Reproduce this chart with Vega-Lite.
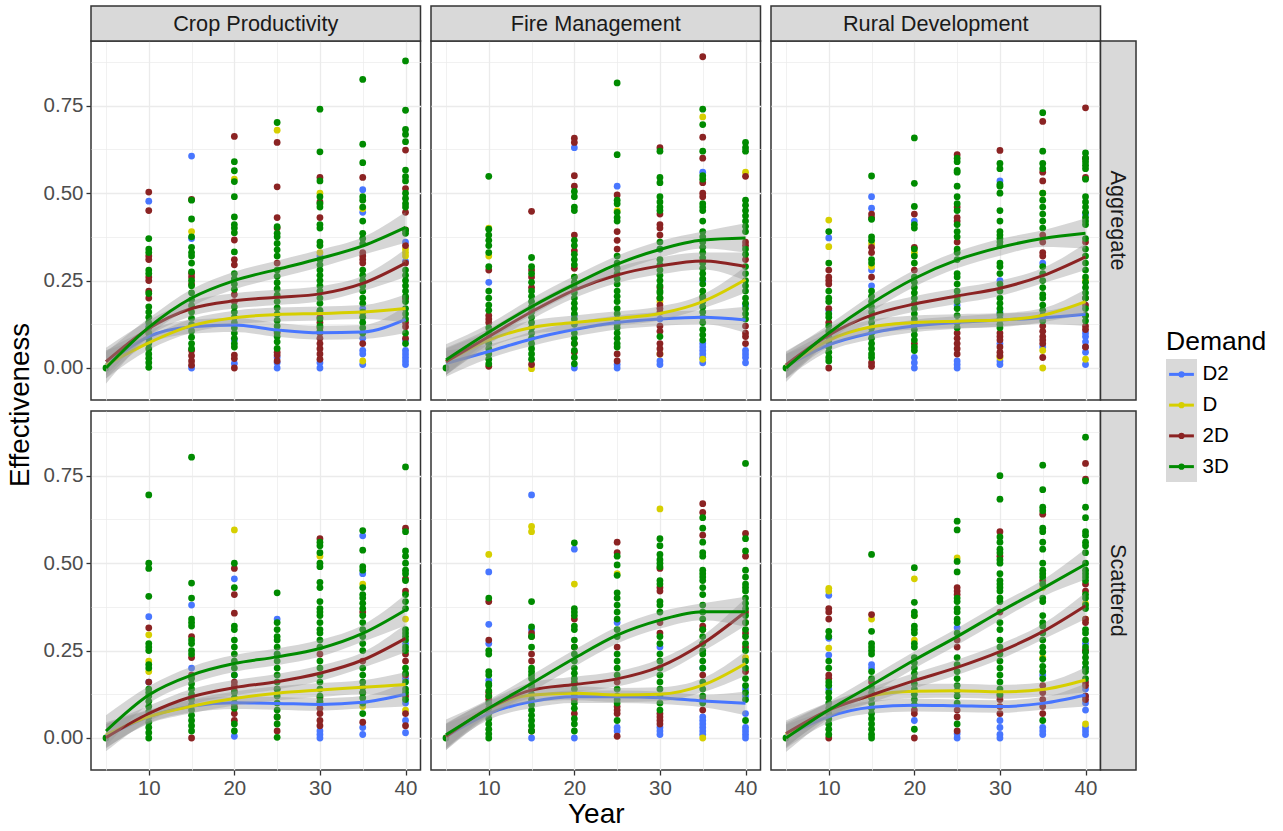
{"$schema":"https://vega.github.io/schema/vega-lite/v6.json","padding":{"left":0,"top":4,"right":0,"bottom":0},"background":"white",
"datasets":{
"p11":[{"s":"D2","x":10,"y":0.477},{"s":"D2","x":10,"y":0.12},{"s":"D2","x":15,"y":0.606},{"s":"D2","x":15,"y":0.37},{"s":"D2","x":15,"y":0},{"s":"D2","x":20,"y":0.013},{"s":"D2","x":20,"y":0.08},{"s":"D2","x":25,"y":0},{"s":"D2","x":25,"y":0.015},{"s":"D2","x":25,"y":0.03},{"s":"D2","x":30,"y":0},{"s":"D2","x":30,"y":0.015},{"s":"D2","x":30,"y":0.32},{"s":"D2","x":35,"y":0.51},{"s":"D2","x":35,"y":0.445},{"s":"D2","x":35,"y":0.05},{"s":"D2","x":35,"y":0.04},{"s":"D2","x":35,"y":0.01},{"s":"D2","x":35,"y":0.085},{"s":"D2","x":35,"y":0.17},{"s":"D2","x":40,"y":0.36},{"s":"D2","x":40,"y":0.305},{"s":"D2","x":40,"y":0.2},{"s":"D2","x":40,"y":0.08},{"s":"D2","x":40,"y":0.05},{"s":"D2","x":40,"y":0.04},{"s":"D2","x":40,"y":0.03},{"s":"D2","x":40,"y":0.02},{"s":"D2","x":40,"y":0.01},
{"s":"D","x":10,"y":0.1},{"s":"D","x":15,"y":0.39},{"s":"D","x":20,"y":0.54},{"s":"D","x":25,"y":0.68},{"s":"D","x":30,"y":0.5},{"s":"D","x":30,"y":0.33},{"s":"D","x":35,"y":0.455},{"s":"D","x":35,"y":0.15},{"s":"D","x":35,"y":0.02},{"s":"D","x":40,"y":0.34},{"s":"D","x":40,"y":0.33},{"s":"D","x":40,"y":0.32},
{"s":"2D","x":10,"y":0.503},{"s":"2D","x":10,"y":0.45},{"s":"2D","x":10,"y":0.32},{"s":"2D","x":10,"y":0.31},{"s":"2D","x":10,"y":0.26},{"s":"2D","x":10,"y":0.25},{"s":"2D","x":10,"y":0.22},{"s":"2D","x":10,"y":0.2},{"s":"2D","x":15,"y":0.482},{"s":"2D","x":15,"y":0.27},{"s":"2D","x":15,"y":0.26},{"s":"2D","x":15,"y":0.24},{"s":"2D","x":15,"y":0.05},{"s":"2D","x":15,"y":0.035},{"s":"2D","x":15,"y":0.02},{"s":"2D","x":15,"y":0.008},{"s":"2D","x":20,"y":0.662},{"s":"2D","x":20,"y":0.366},{"s":"2D","x":20,"y":0.31},{"s":"2D","x":20,"y":0.295},{"s":"2D","x":20,"y":0.21},{"s":"2D","x":20,"y":0.19},{"s":"2D","x":20,"y":0.037},{"s":"2D","x":20,"y":0.027},{"s":"2D","x":20,"y":0},{"s":"2D","x":25,"y":0.645},{"s":"2D","x":25,"y":0.518},{"s":"2D","x":25,"y":0.43},{"s":"2D","x":25,"y":0.4},{"s":"2D","x":25,"y":0.3},{"s":"2D","x":25,"y":0.037},{"s":"2D","x":25,"y":0.045},{"s":"2D","x":25,"y":0.02},{"s":"2D","x":25,"y":0.1},{"s":"2D","x":30,"y":0.545},{"s":"2D","x":30,"y":0.475},{"s":"2D","x":30,"y":0.43},{"s":"2D","x":30,"y":0.16},{"s":"2D","x":30,"y":0.145},{"s":"2D","x":30,"y":0.13},{"s":"2D","x":30,"y":0.115},{"s":"2D","x":30,"y":0.1},{"s":"2D","x":30,"y":0.085},{"s":"2D","x":30,"y":0.07},{"s":"2D","x":30,"y":0.055},{"s":"2D","x":30,"y":0.04},{"s":"2D","x":30,"y":0.025},{"s":"2D","x":35,"y":0.545},{"s":"2D","x":35,"y":0.33},{"s":"2D","x":35,"y":0.32},{"s":"2D","x":35,"y":0.31},{"s":"2D","x":35,"y":0.3},{"s":"2D","x":35,"y":0.07},{"s":"2D","x":40,"y":0.623},{"s":"2D","x":40,"y":0.513},{"s":"2D","x":40,"y":0.445},{"s":"2D","x":40,"y":0.395},{"s":"2D","x":40,"y":0.35},{"s":"2D","x":40,"y":0.3},{"s":"2D","x":40,"y":0.2},{"s":"2D","x":40,"y":0.13},{"s":"2D","x":40,"y":0.118},{"s":"2D","x":40,"y":0.085},
{"s":"3D","x":5,"y":0},{"s":"3D","x":10,"y":0.37},{"s":"3D","x":10,"y":0.34},{"s":"3D","x":10,"y":0.33},{"s":"3D","x":10,"y":0.28},{"s":"3D","x":10,"y":0.27},{"s":"3D","x":10,"y":0.213},{"s":"3D","x":10,"y":0.175},{"s":"3D","x":10,"y":0.16},{"s":"3D","x":10,"y":0.145},{"s":"3D","x":10,"y":0.13},{"s":"3D","x":10,"y":0.115},{"s":"3D","x":10,"y":0.1},{"s":"3D","x":10,"y":0.085},{"s":"3D","x":10,"y":0.07},{"s":"3D","x":10,"y":0.055},{"s":"3D","x":10,"y":0.04},{"s":"3D","x":10,"y":0.028},{"s":"3D","x":10,"y":0.015},{"s":"3D","x":10,"y":0.002},
{"s":"3D","x":15,"y":0.48},{"s":"3D","x":15,"y":0.426},{"s":"3D","x":15,"y":0.375},{"s":"3D","x":15,"y":0.345},{"s":"3D","x":15,"y":0.33},{"s":"3D","x":15,"y":0.32},{"s":"3D","x":15,"y":0.3},{"s":"3D","x":15,"y":0.275},{"s":"3D","x":15,"y":0.25},{"s":"3D","x":15,"y":0.235},{"s":"3D","x":15,"y":0.215},{"s":"3D","x":15,"y":0.195},{"s":"3D","x":15,"y":0.178},{"s":"3D","x":15,"y":0.16},{"s":"3D","x":15,"y":0.142},{"s":"3D","x":15,"y":0.124},{"s":"3D","x":15,"y":0.106},{"s":"3D","x":15,"y":0.088},{"s":"3D","x":15,"y":0.07},{"s":"3D","x":15,"y":0.055},
{"s":"3D","x":20,"y":0.59},{"s":"3D","x":20,"y":0.564},{"s":"3D","x":20,"y":0.533},{"s":"3D","x":20,"y":0.49},{"s":"3D","x":20,"y":0.432},{"s":"3D","x":20,"y":0.41},{"s":"3D","x":20,"y":0.4},{"s":"3D","x":20,"y":0.387},{"s":"3D","x":20,"y":0.332},{"s":"3D","x":20,"y":0.27},{"s":"3D","x":20,"y":0.255},{"s":"3D","x":20,"y":0.24},{"s":"3D","x":20,"y":0.225},{"s":"3D","x":20,"y":0.175},{"s":"3D","x":20,"y":0.16},{"s":"3D","x":20,"y":0.145},{"s":"3D","x":20,"y":0.13},{"s":"3D","x":20,"y":0.115},{"s":"3D","x":20,"y":0.1},{"s":"3D","x":20,"y":0.085},{"s":"3D","x":20,"y":0.07},{"s":"3D","x":20,"y":0.06},
{"s":"3D","x":25,"y":0.702},{"s":"3D","x":25,"y":0.404},{"s":"3D","x":25,"y":0.385},{"s":"3D","x":25,"y":0.375},{"s":"3D","x":25,"y":0.356},{"s":"3D","x":25,"y":0.338},{"s":"3D","x":25,"y":0.32},{"s":"3D","x":25,"y":0.28},{"s":"3D","x":25,"y":0.262},{"s":"3D","x":25,"y":0.244},{"s":"3D","x":25,"y":0.226},{"s":"3D","x":25,"y":0.208},{"s":"3D","x":25,"y":0.19},{"s":"3D","x":25,"y":0.172},{"s":"3D","x":25,"y":0.154},{"s":"3D","x":25,"y":0.136},{"s":"3D","x":25,"y":0.12},{"s":"3D","x":25,"y":0.105},{"s":"3D","x":25,"y":0.09},{"s":"3D","x":25,"y":0.075},{"s":"3D","x":25,"y":0.056},
{"s":"3D","x":30,"y":0.74},{"s":"3D","x":30,"y":0.618},{"s":"3D","x":30,"y":0.535},{"s":"3D","x":30,"y":0.49},{"s":"3D","x":30,"y":0.47},{"s":"3D","x":30,"y":0.46},{"s":"3D","x":30,"y":0.41},{"s":"3D","x":30,"y":0.4},{"s":"3D","x":30,"y":0.36},{"s":"3D","x":30,"y":0.35},{"s":"3D","x":30,"y":0.31},{"s":"3D","x":30,"y":0.295},{"s":"3D","x":30,"y":0.28},{"s":"3D","x":30,"y":0.265},{"s":"3D","x":30,"y":0.25},{"s":"3D","x":30,"y":0.235},{"s":"3D","x":30,"y":0.22},{"s":"3D","x":30,"y":0.2},{"s":"3D","x":30,"y":0.185},{"s":"3D","x":30,"y":0.165},{"s":"3D","x":30,"y":0.14},{"s":"3D","x":30,"y":0.12},{"s":"3D","x":30,"y":0.105},
{"s":"3D","x":35,"y":0.825},{"s":"3D","x":35,"y":0.64},{"s":"3D","x":35,"y":0.587},{"s":"3D","x":35,"y":0.49},{"s":"3D","x":35,"y":0.48},{"s":"3D","x":35,"y":0.46},{"s":"3D","x":35,"y":0.42},{"s":"3D","x":35,"y":0.385},{"s":"3D","x":35,"y":0.37},{"s":"3D","x":35,"y":0.355},{"s":"3D","x":35,"y":0.28},{"s":"3D","x":35,"y":0.265},{"s":"3D","x":35,"y":0.25},{"s":"3D","x":35,"y":0.235},{"s":"3D","x":35,"y":0.22},{"s":"3D","x":35,"y":0.2},{"s":"3D","x":35,"y":0.185},{"s":"3D","x":35,"y":0.16},{"s":"3D","x":35,"y":0.145},{"s":"3D","x":35,"y":0.13},{"s":"3D","x":35,"y":0.115},{"s":"3D","x":35,"y":0.1},
{"s":"3D","x":40,"y":0.878},{"s":"3D","x":40,"y":0.737},{"s":"3D","x":40,"y":0.682},{"s":"3D","x":40,"y":0.668},{"s":"3D","x":40,"y":0.647},{"s":"3D","x":40,"y":0.566},{"s":"3D","x":40,"y":0.547},{"s":"3D","x":40,"y":0.535},{"s":"3D","x":40,"y":0.5},{"s":"3D","x":40,"y":0.485},{"s":"3D","x":40,"y":0.47},{"s":"3D","x":40,"y":0.46},{"s":"3D","x":40,"y":0.394},{"s":"3D","x":40,"y":0.385},{"s":"3D","x":40,"y":0.28},{"s":"3D","x":40,"y":0.265},{"s":"3D","x":40,"y":0.25},{"s":"3D","x":40,"y":0.235},{"s":"3D","x":40,"y":0.22},{"s":"3D","x":40,"y":0.205},{"s":"3D","x":40,"y":0.19},{"s":"3D","x":40,"y":0.17},{"s":"3D","x":40,"y":0.155},{"s":"3D","x":40,"y":0.14},{"s":"3D","x":40,"y":0.1},{"s":"3D","x":40,"y":0.07}],
"p12":[{"s":"D2","x":10,"y":0.245},{"s":"D2","x":20,"y":0.63},{"s":"D2","x":20,"y":0.15},{"s":"D2","x":20,"y":0},{"s":"D2","x":25,"y":0.52},{"s":"D2","x":25,"y":0.01},{"s":"D2","x":25,"y":0},{"s":"D2","x":30,"y":0.34},{"s":"D2","x":30,"y":0.14},{"s":"D2","x":30,"y":0.02},{"s":"D2","x":30,"y":0.01},{"s":"D2","x":35,"y":0.56},{"s":"D2","x":35,"y":0.25},{"s":"D2","x":35,"y":0.07},{"s":"D2","x":35,"y":0.06},{"s":"D2","x":35,"y":0.05},{"s":"D2","x":35,"y":0.04},{"s":"D2","x":35,"y":0.03},{"s":"D2","x":35,"y":0.015},{"s":"D2","x":40,"y":0.18},{"s":"D2","x":40,"y":0.05},{"s":"D2","x":40,"y":0.04},{"s":"D2","x":40,"y":0.03},{"s":"D2","x":40,"y":0.015},
{"s":"D","x":10,"y":0.4},{"s":"D","x":10,"y":0.32},{"s":"D","x":15,"y":-0.002},{"s":"D","x":20,"y":0.26},{"s":"D","x":25,"y":0.45},{"s":"D","x":30,"y":0.19},{"s":"D","x":30,"y":0.04},{"s":"D","x":35,"y":0.718},{"s":"D","x":35,"y":0.025},{"s":"D","x":40,"y":0.56},
{"s":"2D","x":10,"y":0.28},{"s":"2D","x":10,"y":0.15},{"s":"2D","x":10,"y":0.14},{"s":"2D","x":10,"y":0.13},{"s":"2D","x":10,"y":0.005},{"s":"2D","x":15,"y":0.448},{"s":"2D","x":15,"y":0.28},{"s":"2D","x":15,"y":0.26},{"s":"2D","x":15,"y":0.23},{"s":"2D","x":15,"y":0.01},{"s":"2D","x":20,"y":0.657},{"s":"2D","x":20,"y":0.645},{"s":"2D","x":20,"y":0.55},{"s":"2D","x":20,"y":0.52},{"s":"2D","x":20,"y":0.38},{"s":"2D","x":20,"y":0.335},{"s":"2D","x":20,"y":0.285},{"s":"2D","x":20,"y":0.07},{"s":"2D","x":20,"y":0.045},{"s":"2D","x":25,"y":0.495},{"s":"2D","x":25,"y":0.39},{"s":"2D","x":25,"y":0.365},{"s":"2D","x":25,"y":0.34},{"s":"2D","x":25,"y":0.02},{"s":"2D","x":25,"y":0.04},{"s":"2D","x":30,"y":0.63},{"s":"2D","x":30,"y":0.44},{"s":"2D","x":30,"y":0.41},{"s":"2D","x":30,"y":0.4},{"s":"2D","x":30,"y":0.38},{"s":"2D","x":30,"y":0.23},{"s":"2D","x":30,"y":0.2},{"s":"2D","x":30,"y":0.18},{"s":"2D","x":30,"y":0.17},{"s":"2D","x":30,"y":0.16},{"s":"2D","x":30,"y":0.12},{"s":"2D","x":30,"y":0.105},{"s":"2D","x":30,"y":0.07},{"s":"2D","x":30,"y":0.055},{"s":"2D","x":30,"y":0.04},{"s":"2D","x":35,"y":0.89},{"s":"2D","x":35,"y":0.66},{"s":"2D","x":35,"y":0.6},{"s":"2D","x":35,"y":0.53},{"s":"2D","x":35,"y":0.5},{"s":"2D","x":35,"y":0.49},{"s":"2D","x":35,"y":0.2},{"s":"2D","x":40,"y":0.548},{"s":"2D","x":40,"y":0.36},{"s":"2D","x":40,"y":0.35},{"s":"2D","x":40,"y":0.31},{"s":"2D","x":40,"y":0.12},{"s":"2D","x":40,"y":0.1},{"s":"2D","x":40,"y":0.09},{"s":"2D","x":40,"y":0.07},
{"s":"3D","x":5,"y":0},{"s":"3D","x":10,"y":0.548},{"s":"3D","x":10,"y":0.397},{"s":"3D","x":10,"y":0.38},{"s":"3D","x":10,"y":0.365},{"s":"3D","x":10,"y":0.35},{"s":"3D","x":10,"y":0.33},{"s":"3D","x":10,"y":0.29},{"s":"3D","x":10,"y":0.22},{"s":"3D","x":10,"y":0.2},{"s":"3D","x":10,"y":0.18},{"s":"3D","x":10,"y":0.165},{"s":"3D","x":10,"y":0.115},{"s":"3D","x":10,"y":0.1},{"s":"3D","x":10,"y":0.085},{"s":"3D","x":10,"y":0.07},{"s":"3D","x":10,"y":0.055},{"s":"3D","x":10,"y":0.04},{"s":"3D","x":10,"y":0.025},{"s":"3D","x":10,"y":0.012},
{"s":"3D","x":15,"y":0.316},{"s":"3D","x":15,"y":0.29},{"s":"3D","x":15,"y":0.27},{"s":"3D","x":15,"y":0.245},{"s":"3D","x":15,"y":0.22},{"s":"3D","x":15,"y":0.205},{"s":"3D","x":15,"y":0.19},{"s":"3D","x":15,"y":0.175},{"s":"3D","x":15,"y":0.16},{"s":"3D","x":15,"y":0.145},{"s":"3D","x":15,"y":0.13},{"s":"3D","x":15,"y":0.115},{"s":"3D","x":15,"y":0.1},{"s":"3D","x":15,"y":0.085},{"s":"3D","x":15,"y":0.07},{"s":"3D","x":15,"y":0.055},{"s":"3D","x":15,"y":0.04},{"s":"3D","x":15,"y":0.025},
{"s":"3D","x":20,"y":0.505},{"s":"3D","x":20,"y":0.49},{"s":"3D","x":20,"y":0.46},{"s":"3D","x":20,"y":0.45},{"s":"3D","x":20,"y":0.365},{"s":"3D","x":20,"y":0.35},{"s":"3D","x":20,"y":0.325},{"s":"3D","x":20,"y":0.31},{"s":"3D","x":20,"y":0.295},{"s":"3D","x":20,"y":0.26},{"s":"3D","x":20,"y":0.245},{"s":"3D","x":20,"y":0.23},{"s":"3D","x":20,"y":0.215},{"s":"3D","x":20,"y":0.2},{"s":"3D","x":20,"y":0.185},{"s":"3D","x":20,"y":0.17},{"s":"3D","x":20,"y":0.155},{"s":"3D","x":20,"y":0.14},{"s":"3D","x":20,"y":0.125},{"s":"3D","x":20,"y":0.1},{"s":"3D","x":20,"y":0.085},{"s":"3D","x":20,"y":0.07},{"s":"3D","x":20,"y":0.05},{"s":"3D","x":20,"y":0.03},{"s":"3D","x":20,"y":0.012},
{"s":"3D","x":25,"y":0.815},{"s":"3D","x":25,"y":0.61},{"s":"3D","x":25,"y":0.48},{"s":"3D","x":25,"y":0.47},{"s":"3D","x":25,"y":0.445},{"s":"3D","x":25,"y":0.43},{"s":"3D","x":25,"y":0.42},{"s":"3D","x":25,"y":0.32},{"s":"3D","x":25,"y":0.3},{"s":"3D","x":25,"y":0.285},{"s":"3D","x":25,"y":0.27},{"s":"3D","x":25,"y":0.255},{"s":"3D","x":25,"y":0.24},{"s":"3D","x":25,"y":0.22},{"s":"3D","x":25,"y":0.205},{"s":"3D","x":25,"y":0.19},{"s":"3D","x":25,"y":0.17},{"s":"3D","x":25,"y":0.155},{"s":"3D","x":25,"y":0.14},{"s":"3D","x":25,"y":0.125},{"s":"3D","x":25,"y":0.115},{"s":"3D","x":25,"y":0.1},{"s":"3D","x":25,"y":0.085},{"s":"3D","x":25,"y":0.07},{"s":"3D","x":25,"y":0.06},
{"s":"3D","x":30,"y":0.62},{"s":"3D","x":30,"y":0.545},{"s":"3D","x":30,"y":0.53},{"s":"3D","x":30,"y":0.49},{"s":"3D","x":30,"y":0.475},{"s":"3D","x":30,"y":0.46},{"s":"3D","x":30,"y":0.45},{"s":"3D","x":30,"y":0.36},{"s":"3D","x":30,"y":0.34},{"s":"3D","x":30,"y":0.31},{"s":"3D","x":30,"y":0.295},{"s":"3D","x":30,"y":0.28},{"s":"3D","x":30,"y":0.265},{"s":"3D","x":30,"y":0.25},{"s":"3D","x":30,"y":0.235},{"s":"3D","x":30,"y":0.22},{"s":"3D","x":30,"y":0.215},{"s":"3D","x":30,"y":0.2},{"s":"3D","x":30,"y":0.09},
{"s":"3D","x":35,"y":0.74},{"s":"3D","x":35,"y":0.696},{"s":"3D","x":35,"y":0.62},{"s":"3D","x":35,"y":0.55},{"s":"3D","x":35,"y":0.54},{"s":"3D","x":35,"y":0.47},{"s":"3D","x":35,"y":0.46},{"s":"3D","x":35,"y":0.45},{"s":"3D","x":35,"y":0.42},{"s":"3D","x":35,"y":0.39},{"s":"3D","x":35,"y":0.375},{"s":"3D","x":35,"y":0.36},{"s":"3D","x":35,"y":0.345},{"s":"3D","x":35,"y":0.33},{"s":"3D","x":35,"y":0.315},{"s":"3D","x":35,"y":0.3},{"s":"3D","x":35,"y":0.285},{"s":"3D","x":35,"y":0.27},{"s":"3D","x":35,"y":0.255},{"s":"3D","x":35,"y":0.24},{"s":"3D","x":35,"y":0.22},{"s":"3D","x":35,"y":0.205},{"s":"3D","x":35,"y":0.19},{"s":"3D","x":35,"y":0.175},{"s":"3D","x":35,"y":0.16},{"s":"3D","x":35,"y":0.145},{"s":"3D","x":35,"y":0.13},{"s":"3D","x":35,"y":0.11},{"s":"3D","x":35,"y":0.095},{"s":"3D","x":35,"y":0.08},
{"s":"3D","x":40,"y":0.645},{"s":"3D","x":40,"y":0.63},{"s":"3D","x":40,"y":0.62},{"s":"3D","x":40,"y":0.48},{"s":"3D","x":40,"y":0.465},{"s":"3D","x":40,"y":0.45},{"s":"3D","x":40,"y":0.435},{"s":"3D","x":40,"y":0.42},{"s":"3D","x":40,"y":0.405},{"s":"3D","x":40,"y":0.39},{"s":"3D","x":40,"y":0.34},{"s":"3D","x":40,"y":0.325},{"s":"3D","x":40,"y":0.29},{"s":"3D","x":40,"y":0.27},{"s":"3D","x":40,"y":0.25},{"s":"3D","x":40,"y":0.235},{"s":"3D","x":40,"y":0.22},{"s":"3D","x":40,"y":0.2},{"s":"3D","x":40,"y":0.185},{"s":"3D","x":40,"y":0.17},{"s":"3D","x":40,"y":0.155},{"s":"3D","x":40,"y":0.14}],
"p13":[{"s":"D2","x":10,"y":0.372},{"s":"D2","x":10,"y":0.165},{"s":"D2","x":15,"y":0.49},{"s":"D2","x":15,"y":0.457},{"s":"D2","x":15,"y":0.28},{"s":"D2","x":15,"y":0.235},{"s":"D2","x":20,"y":0.42},{"s":"D2","x":20,"y":0.03},{"s":"D2","x":20,"y":0.015},{"s":"D2","x":20,"y":0},{"s":"D2","x":25,"y":0.18},{"s":"D2","x":25,"y":0.02},{"s":"D2","x":25,"y":0.01},{"s":"D2","x":25,"y":0},{"s":"D2","x":30,"y":0.535},{"s":"D2","x":30,"y":0.25},{"s":"D2","x":30,"y":0.16},{"s":"D2","x":30,"y":0.15},{"s":"D2","x":30,"y":0.07},{"s":"D2","x":30,"y":0.02},{"s":"D2","x":30,"y":0.01},{"s":"D2","x":35,"y":0.3},{"s":"D2","x":35,"y":0.06},{"s":"D2","x":40,"y":0.44},{"s":"D2","x":40,"y":0.1},{"s":"D2","x":40,"y":0.09},{"s":"D2","x":40,"y":0.075},{"s":"D2","x":40,"y":0.06},{"s":"D2","x":40,"y":0.045},{"s":"D2","x":40,"y":0.01},
{"s":"D","x":10,"y":0.423},{"s":"D","x":10,"y":0.347},{"s":"D","x":15,"y":0.355},{"s":"D","x":15,"y":0.29},{"s":"D","x":20,"y":0.33},{"s":"D","x":25,"y":0.2},{"s":"D","x":30,"y":0.03},{"s":"D","x":35,"y":0.5},{"s":"D","x":35,"y":0.05},{"s":"D","x":35,"y":0},{"s":"D","x":40,"y":0.25},{"s":"D","x":40,"y":0.025},
{"s":"2D","x":10,"y":0.28},{"s":"2D","x":10,"y":0.26},{"s":"2D","x":10,"y":0.25},{"s":"2D","x":10,"y":0.24},{"s":"2D","x":10,"y":0.17},{"s":"2D","x":10,"y":0.13},{"s":"2D","x":10,"y":0},{"s":"2D","x":15,"y":0.44},{"s":"2D","x":15,"y":0.43},{"s":"2D","x":15,"y":0.345},{"s":"2D","x":15,"y":0.33},{"s":"2D","x":15,"y":0.26},{"s":"2D","x":15,"y":0.015},{"s":"2D","x":15,"y":0.005},{"s":"2D","x":20,"y":0.44},{"s":"2D","x":20,"y":0.345},{"s":"2D","x":20,"y":0.28},{"s":"2D","x":20,"y":0.07},{"s":"2D","x":25,"y":0.61},{"s":"2D","x":25,"y":0.46},{"s":"2D","x":25,"y":0.43},{"s":"2D","x":25,"y":0.42},{"s":"2D","x":25,"y":0.36},{"s":"2D","x":25,"y":0.1},{"s":"2D","x":25,"y":0.085},{"s":"2D","x":25,"y":0.07},{"s":"2D","x":25,"y":0.055},{"s":"2D","x":25,"y":0.04},{"s":"2D","x":30,"y":0.622},{"s":"2D","x":30,"y":0.1},{"s":"2D","x":30,"y":0.09},{"s":"2D","x":30,"y":0.08},{"s":"2D","x":30,"y":0.06},{"s":"2D","x":30,"y":0.045},{"s":"2D","x":30,"y":0.035},{"s":"2D","x":35,"y":0.705},{"s":"2D","x":35,"y":0.56},{"s":"2D","x":35,"y":0.535},{"s":"2D","x":35,"y":0.38},{"s":"2D","x":35,"y":0.36},{"s":"2D","x":35,"y":0.33},{"s":"2D","x":35,"y":0.32},{"s":"2D","x":35,"y":0.12},{"s":"2D","x":35,"y":0.105},{"s":"2D","x":35,"y":0.09},{"s":"2D","x":35,"y":0.08},{"s":"2D","x":35,"y":0.07},{"s":"2D","x":35,"y":0.03},{"s":"2D","x":40,"y":0.744},{"s":"2D","x":40,"y":0.6},{"s":"2D","x":40,"y":0.545},{"s":"2D","x":40,"y":0.36},{"s":"2D","x":40,"y":0.2},{"s":"2D","x":40,"y":0.18},{"s":"2D","x":40,"y":0.15},{"s":"2D","x":40,"y":0.12},{"s":"2D","x":40,"y":0.11},{"s":"2D","x":40,"y":0.06},
{"s":"3D","x":5,"y":0},{"s":"3D","x":10,"y":0.39},{"s":"3D","x":10,"y":0.3},{"s":"3D","x":10,"y":0.22},{"s":"3D","x":10,"y":0.2},{"s":"3D","x":10,"y":0.19},{"s":"3D","x":10,"y":0.155},{"s":"3D","x":10,"y":0.145},{"s":"3D","x":10,"y":0.12},{"s":"3D","x":10,"y":0.105},{"s":"3D","x":10,"y":0.09},{"s":"3D","x":10,"y":0.075},{"s":"3D","x":10,"y":0.06},{"s":"3D","x":10,"y":0.045},{"s":"3D","x":10,"y":0.03},{"s":"3D","x":10,"y":0.02},
{"s":"3D","x":15,"y":0.549},{"s":"3D","x":15,"y":0.425},{"s":"3D","x":15,"y":0.375},{"s":"3D","x":15,"y":0.365},{"s":"3D","x":15,"y":0.31},{"s":"3D","x":15,"y":0.3},{"s":"3D","x":15,"y":0.22},{"s":"3D","x":15,"y":0.205},{"s":"3D","x":15,"y":0.19},{"s":"3D","x":15,"y":0.175},{"s":"3D","x":15,"y":0.16},{"s":"3D","x":15,"y":0.145},{"s":"3D","x":15,"y":0.13},{"s":"3D","x":15,"y":0.115},{"s":"3D","x":15,"y":0.1},{"s":"3D","x":15,"y":0.085},{"s":"3D","x":15,"y":0.07},{"s":"3D","x":15,"y":0.055},{"s":"3D","x":15,"y":0.04},{"s":"3D","x":15,"y":0.03},
{"s":"3D","x":20,"y":0.658},{"s":"3D","x":20,"y":0.528},{"s":"3D","x":20,"y":0.462},{"s":"3D","x":20,"y":0.41},{"s":"3D","x":20,"y":0.4},{"s":"3D","x":20,"y":0.34},{"s":"3D","x":20,"y":0.32},{"s":"3D","x":20,"y":0.3},{"s":"3D","x":20,"y":0.26},{"s":"3D","x":20,"y":0.245},{"s":"3D","x":20,"y":0.23},{"s":"3D","x":20,"y":0.215},{"s":"3D","x":20,"y":0.2},{"s":"3D","x":20,"y":0.185},{"s":"3D","x":20,"y":0.17},{"s":"3D","x":20,"y":0.155},{"s":"3D","x":20,"y":0.14},{"s":"3D","x":20,"y":0.125},{"s":"3D","x":20,"y":0.11},{"s":"3D","x":20,"y":0.095},{"s":"3D","x":20,"y":0.08},{"s":"3D","x":20,"y":0.06},{"s":"3D","x":20,"y":0.05},
{"s":"3D","x":25,"y":0.6},{"s":"3D","x":25,"y":0.59},{"s":"3D","x":25,"y":0.565},{"s":"3D","x":25,"y":0.56},{"s":"3D","x":25,"y":0.52},{"s":"3D","x":25,"y":0.49},{"s":"3D","x":25,"y":0.47},{"s":"3D","x":25,"y":0.45},{"s":"3D","x":25,"y":0.41},{"s":"3D","x":25,"y":0.39},{"s":"3D","x":25,"y":0.375},{"s":"3D","x":25,"y":0.34},{"s":"3D","x":25,"y":0.33},{"s":"3D","x":25,"y":0.31},{"s":"3D","x":25,"y":0.27},{"s":"3D","x":25,"y":0.26},{"s":"3D","x":25,"y":0.24},{"s":"3D","x":25,"y":0.22},{"s":"3D","x":25,"y":0.205},{"s":"3D","x":25,"y":0.19},{"s":"3D","x":25,"y":0.17},{"s":"3D","x":25,"y":0.15},{"s":"3D","x":25,"y":0.13},{"s":"3D","x":25,"y":0.115},
{"s":"3D","x":30,"y":0.585},{"s":"3D","x":30,"y":0.57},{"s":"3D","x":30,"y":0.525},{"s":"3D","x":30,"y":0.52},{"s":"3D","x":30,"y":0.5},{"s":"3D","x":30,"y":0.45},{"s":"3D","x":30,"y":0.42},{"s":"3D","x":30,"y":0.39},{"s":"3D","x":30,"y":0.38},{"s":"3D","x":30,"y":0.37},{"s":"3D","x":30,"y":0.36},{"s":"3D","x":30,"y":0.35},{"s":"3D","x":30,"y":0.3},{"s":"3D","x":30,"y":0.29},{"s":"3D","x":30,"y":0.27},{"s":"3D","x":30,"y":0.24},{"s":"3D","x":30,"y":0.22},{"s":"3D","x":30,"y":0.2},{"s":"3D","x":30,"y":0.185},{"s":"3D","x":30,"y":0.17},{"s":"3D","x":30,"y":0.155},{"s":"3D","x":30,"y":0.14},{"s":"3D","x":30,"y":0.125},{"s":"3D","x":30,"y":0.115},
{"s":"3D","x":35,"y":0.73},{"s":"3D","x":35,"y":0.62},{"s":"3D","x":35,"y":0.585},{"s":"3D","x":35,"y":0.57},{"s":"3D","x":35,"y":0.5},{"s":"3D","x":35,"y":0.48},{"s":"3D","x":35,"y":0.46},{"s":"3D","x":35,"y":0.44},{"s":"3D","x":35,"y":0.42},{"s":"3D","x":35,"y":0.4},{"s":"3D","x":35,"y":0.29},{"s":"3D","x":35,"y":0.27},{"s":"3D","x":35,"y":0.25},{"s":"3D","x":35,"y":0.23},{"s":"3D","x":35,"y":0.21},{"s":"3D","x":35,"y":0.2},{"s":"3D","x":35,"y":0.18},{"s":"3D","x":35,"y":0.165},{"s":"3D","x":35,"y":0.15},{"s":"3D","x":35,"y":0.135},
{"s":"3D","x":40,"y":0.615},{"s":"3D","x":40,"y":0.6},{"s":"3D","x":40,"y":0.59},{"s":"3D","x":40,"y":0.58},{"s":"3D","x":40,"y":0.57},{"s":"3D","x":40,"y":0.54},{"s":"3D","x":40,"y":0.49},{"s":"3D","x":40,"y":0.475},{"s":"3D","x":40,"y":0.46},{"s":"3D","x":40,"y":0.445},{"s":"3D","x":40,"y":0.43},{"s":"3D","x":40,"y":0.42},{"s":"3D","x":40,"y":0.41},{"s":"3D","x":40,"y":0.37},{"s":"3D","x":40,"y":0.34},{"s":"3D","x":40,"y":0.32},{"s":"3D","x":40,"y":0.3},{"s":"3D","x":40,"y":0.28},{"s":"3D","x":40,"y":0.26},{"s":"3D","x":40,"y":0.245},{"s":"3D","x":40,"y":0.23},{"s":"3D","x":40,"y":0.215},{"s":"3D","x":40,"y":0.2},{"s":"3D","x":40,"y":0.17},{"s":"3D","x":40,"y":0.15},{"s":"3D","x":40,"y":0.135}],
"p21":[{"s":"D2","x":10,"y":0.347},{"s":"D2","x":10,"y":0.16},{"s":"D2","x":15,"y":0.38},{"s":"D2","x":15,"y":0.2},{"s":"D2","x":20,"y":0.455},{"s":"D2","x":20,"y":0.18},{"s":"D2","x":20,"y":0.005},{"s":"D2","x":25,"y":0.34},{"s":"D2","x":25,"y":0.24},{"s":"D2","x":30,"y":0.02},{"s":"D2","x":30,"y":0.01},{"s":"D2","x":30,"y":0},{"s":"D2","x":35,"y":0.578},{"s":"D2","x":35,"y":0.47},{"s":"D2","x":35,"y":0.03},{"s":"D2","x":35,"y":0.01},{"s":"D2","x":40,"y":0.27},{"s":"D2","x":40,"y":0.17},{"s":"D2","x":40,"y":0.1},{"s":"D2","x":40,"y":0.05},{"s":"D2","x":40,"y":0.015},
{"s":"D","x":10,"y":0.295},{"s":"D","x":10,"y":0.22},{"s":"D","x":10,"y":0.19},{"s":"D","x":20,"y":0.595},{"s":"D","x":30,"y":0.52},{"s":"D","x":35,"y":0.44},{"s":"D","x":35,"y":0.09},{"s":"D","x":40,"y":0.34},{"s":"D","x":40,"y":0.08},
{"s":"2D","x":10,"y":0.315},{"s":"2D","x":10,"y":0.16},{"s":"2D","x":15,"y":0.29},{"s":"2D","x":15,"y":0.23},{"s":"2D","x":15,"y":0.18},{"s":"2D","x":15,"y":0},{"s":"2D","x":20,"y":0.485},{"s":"2D","x":20,"y":0.41},{"s":"2D","x":20,"y":0.357},{"s":"2D","x":20,"y":0.16},{"s":"2D","x":20,"y":0.15},{"s":"2D","x":20,"y":0.135},{"s":"2D","x":20,"y":0.09},{"s":"2D","x":20,"y":0.07},{"s":"2D","x":20,"y":0.05},{"s":"2D","x":25,"y":0.14},{"s":"2D","x":25,"y":0.06},{"s":"2D","x":25,"y":0.02},{"s":"2D","x":30,"y":0.57},{"s":"2D","x":30,"y":0.24},{"s":"2D","x":30,"y":0.115},{"s":"2D","x":30,"y":0.1},{"s":"2D","x":30,"y":0.085},{"s":"2D","x":30,"y":0.07},{"s":"2D","x":30,"y":0.05},{"s":"2D","x":30,"y":0.035},{"s":"2D","x":35,"y":0.36},{"s":"2D","x":35,"y":0.22},{"s":"2D","x":35,"y":0.13},{"s":"2D","x":35,"y":0.045},{"s":"2D","x":40,"y":0.6},{"s":"2D","x":40,"y":0.455},{"s":"2D","x":40,"y":0.42},{"s":"2D","x":40,"y":0.24},{"s":"2D","x":40,"y":0.22},{"s":"2D","x":40,"y":0.18},{"s":"2D","x":40,"y":0.12},{"s":"2D","x":40,"y":0.07},{"s":"2D","x":40,"y":0.035},
{"s":"3D","x":5,"y":0},{"s":"3D","x":10,"y":0.695},{"s":"3D","x":10,"y":0.5},{"s":"3D","x":10,"y":0.485},{"s":"3D","x":10,"y":0.405},{"s":"3D","x":10,"y":0.27},{"s":"3D","x":10,"y":0.26},{"s":"3D","x":10,"y":0.25},{"s":"3D","x":10,"y":0.21},{"s":"3D","x":10,"y":0.2},{"s":"3D","x":10,"y":0.14},{"s":"3D","x":10,"y":0.13},{"s":"3D","x":10,"y":0.12},{"s":"3D","x":10,"y":0.105},{"s":"3D","x":10,"y":0.09},{"s":"3D","x":10,"y":0.075},{"s":"3D","x":10,"y":0.06},{"s":"3D","x":10,"y":0.045},{"s":"3D","x":10,"y":0.03},{"s":"3D","x":10,"y":0.015},{"s":"3D","x":10,"y":0},
{"s":"3D","x":15,"y":0.803},{"s":"3D","x":15,"y":0.443},{"s":"3D","x":15,"y":0.4},{"s":"3D","x":15,"y":0.34},{"s":"3D","x":15,"y":0.33},{"s":"3D","x":15,"y":0.32},{"s":"3D","x":15,"y":0.28},{"s":"3D","x":15,"y":0.27},{"s":"3D","x":15,"y":0.25},{"s":"3D","x":15,"y":0.24},{"s":"3D","x":15,"y":0.17},{"s":"3D","x":15,"y":0.155},{"s":"3D","x":15,"y":0.14},{"s":"3D","x":15,"y":0.125},{"s":"3D","x":15,"y":0.11},{"s":"3D","x":15,"y":0.095},{"s":"3D","x":15,"y":0.08},{"s":"3D","x":15,"y":0.065},{"s":"3D","x":15,"y":0.05},{"s":"3D","x":15,"y":0.035},{"s":"3D","x":15,"y":0.02},
{"s":"3D","x":20,"y":0.5},{"s":"3D","x":20,"y":0.43},{"s":"3D","x":20,"y":0.32},{"s":"3D","x":20,"y":0.31},{"s":"3D","x":20,"y":0.28},{"s":"3D","x":20,"y":0.26},{"s":"3D","x":20,"y":0.24},{"s":"3D","x":20,"y":0.22},{"s":"3D","x":20,"y":0.2},{"s":"3D","x":20,"y":0.18},{"s":"3D","x":20,"y":0.13},{"s":"3D","x":20,"y":0.115},{"s":"3D","x":20,"y":0.1},{"s":"3D","x":20,"y":0.085},{"s":"3D","x":20,"y":0.04},{"s":"3D","x":20,"y":0.02},
{"s":"3D","x":25,"y":0.415},{"s":"3D","x":25,"y":0.33},{"s":"3D","x":25,"y":0.31},{"s":"3D","x":25,"y":0.29},{"s":"3D","x":25,"y":0.28},{"s":"3D","x":25,"y":0.26},{"s":"3D","x":25,"y":0.24},{"s":"3D","x":25,"y":0.22},{"s":"3D","x":25,"y":0.2},{"s":"3D","x":25,"y":0.18},{"s":"3D","x":25,"y":0.16},{"s":"3D","x":25,"y":0.14},{"s":"3D","x":25,"y":0.12},{"s":"3D","x":25,"y":0.1},{"s":"3D","x":25,"y":0.08},{"s":"3D","x":25,"y":0.06},{"s":"3D","x":25,"y":0.04},{"s":"3D","x":25,"y":0.002},
{"s":"3D","x":30,"y":0.56},{"s":"3D","x":30,"y":0.55},{"s":"3D","x":30,"y":0.53},{"s":"3D","x":30,"y":0.5},{"s":"3D","x":30,"y":0.49},{"s":"3D","x":30,"y":0.445},{"s":"3D","x":30,"y":0.43},{"s":"3D","x":30,"y":0.39},{"s":"3D","x":30,"y":0.37},{"s":"3D","x":30,"y":0.36},{"s":"3D","x":30,"y":0.35},{"s":"3D","x":30,"y":0.33},{"s":"3D","x":30,"y":0.31},{"s":"3D","x":30,"y":0.3},{"s":"3D","x":30,"y":0.28},{"s":"3D","x":30,"y":0.26},{"s":"3D","x":30,"y":0.22},{"s":"3D","x":30,"y":0.2},{"s":"3D","x":30,"y":0.18},{"s":"3D","x":30,"y":0.16},{"s":"3D","x":30,"y":0.14},{"s":"3D","x":30,"y":0.12},{"s":"3D","x":30,"y":0.105},
{"s":"3D","x":35,"y":0.593},{"s":"3D","x":35,"y":0.537},{"s":"3D","x":35,"y":0.49},{"s":"3D","x":35,"y":0.48},{"s":"3D","x":35,"y":0.43},{"s":"3D","x":35,"y":0.41},{"s":"3D","x":35,"y":0.4},{"s":"3D","x":35,"y":0.385},{"s":"3D","x":35,"y":0.37},{"s":"3D","x":35,"y":0.35},{"s":"3D","x":35,"y":0.33},{"s":"3D","x":35,"y":0.31},{"s":"3D","x":35,"y":0.29},{"s":"3D","x":35,"y":0.27},{"s":"3D","x":35,"y":0.25},{"s":"3D","x":35,"y":0.2},{"s":"3D","x":35,"y":0.18},{"s":"3D","x":35,"y":0.16},{"s":"3D","x":35,"y":0.145},{"s":"3D","x":35,"y":0.13},{"s":"3D","x":35,"y":0.115},{"s":"3D","x":35,"y":0.1},{"s":"3D","x":35,"y":0.07},
{"s":"3D","x":40,"y":0.775},{"s":"3D","x":40,"y":0.59},{"s":"3D","x":40,"y":0.535},{"s":"3D","x":40,"y":0.52},{"s":"3D","x":40,"y":0.5},{"s":"3D","x":40,"y":0.48},{"s":"3D","x":40,"y":0.47},{"s":"3D","x":40,"y":0.45},{"s":"3D","x":40,"y":0.41},{"s":"3D","x":40,"y":0.39},{"s":"3D","x":40,"y":0.37},{"s":"3D","x":40,"y":0.31},{"s":"3D","x":40,"y":0.3},{"s":"3D","x":40,"y":0.29},{"s":"3D","x":40,"y":0.28},{"s":"3D","x":40,"y":0.26},{"s":"3D","x":40,"y":0.25},{"s":"3D","x":40,"y":0.2},{"s":"3D","x":40,"y":0.185},{"s":"3D","x":40,"y":0.16},{"s":"3D","x":40,"y":0.14},{"s":"3D","x":40,"y":0.13},{"s":"3D","x":40,"y":0.11}],
"p22":[{"s":"D2","x":10,"y":0.475},{"s":"D2","x":10,"y":0.325},{"s":"D2","x":10,"y":0.27},{"s":"D2","x":10,"y":0.165},{"s":"D2","x":15,"y":0.695},{"s":"D2","x":15,"y":0.31},{"s":"D2","x":15,"y":0},{"s":"D2","x":20,"y":0.54},{"s":"D2","x":20,"y":0},{"s":"D2","x":25,"y":0.33},{"s":"D2","x":25,"y":0.02},{"s":"D2","x":25,"y":0.03},{"s":"D2","x":30,"y":0.26},{"s":"D2","x":30,"y":0.02},{"s":"D2","x":30,"y":0.01},{"s":"D2","x":30,"y":0.03},{"s":"D2","x":35,"y":0.2},{"s":"D2","x":35,"y":0.06},{"s":"D2","x":35,"y":0.05},{"s":"D2","x":35,"y":0.04},{"s":"D2","x":35,"y":0.03},{"s":"D2","x":35,"y":0.02},{"s":"D2","x":35,"y":0.01},{"s":"D2","x":40,"y":0.14},{"s":"D2","x":40,"y":0.12},{"s":"D2","x":40,"y":0.07},{"s":"D2","x":40,"y":0.03},{"s":"D2","x":40,"y":0.02},{"s":"D2","x":40,"y":0.01},{"s":"D2","x":40,"y":0},
{"s":"D","x":10,"y":0.525},{"s":"D","x":15,"y":0.605},{"s":"D","x":15,"y":0.59},{"s":"D","x":20,"y":0.44},{"s":"D","x":25,"y":0.47},{"s":"D","x":30,"y":0.655},{"s":"D","x":35,"y":0},{"s":"D","x":40,"y":0.23},
{"s":"2D","x":10,"y":0.39},{"s":"2D","x":10,"y":0.28},{"s":"2D","x":10,"y":0.13},{"s":"2D","x":10,"y":0.12},{"s":"2D","x":10,"y":0.11},{"s":"2D","x":15,"y":0.3},{"s":"2D","x":15,"y":0.29},{"s":"2D","x":15,"y":0.24},{"s":"2D","x":15,"y":0.22},{"s":"2D","x":15,"y":0.15},{"s":"2D","x":15,"y":0.02},{"s":"2D","x":20,"y":0.34},{"s":"2D","x":20,"y":0.26},{"s":"2D","x":20,"y":0.16},{"s":"2D","x":20,"y":0.11},{"s":"2D","x":20,"y":0.07},{"s":"2D","x":25,"y":0.56},{"s":"2D","x":25,"y":0.53},{"s":"2D","x":25,"y":0.26},{"s":"2D","x":25,"y":0.16},{"s":"2D","x":25,"y":0.07},{"s":"2D","x":25,"y":0.09},{"s":"2D","x":25,"y":0.08},{"s":"2D","x":25,"y":0.005},{"s":"2D","x":30,"y":0.485},{"s":"2D","x":30,"y":0.43},{"s":"2D","x":30,"y":0.42},{"s":"2D","x":30,"y":0.33},{"s":"2D","x":30,"y":0.3},{"s":"2D","x":30,"y":0.07},{"s":"2D","x":30,"y":0.06},{"s":"2D","x":30,"y":0.05},{"s":"2D","x":30,"y":0.04},{"s":"2D","x":35,"y":0.67},{"s":"2D","x":35,"y":0.645},{"s":"2D","x":35,"y":0.58},{"s":"2D","x":35,"y":0.32},{"s":"2D","x":35,"y":0.31},{"s":"2D","x":35,"y":0.27},{"s":"2D","x":35,"y":0.18},{"s":"2D","x":35,"y":0.11},{"s":"2D","x":35,"y":0.08},{"s":"2D","x":40,"y":0.585},{"s":"2D","x":40,"y":0.52},{"s":"2D","x":40,"y":0.36},{"s":"2D","x":40,"y":0.33},{"s":"2D","x":40,"y":0.3},{"s":"2D","x":40,"y":0.26},{"s":"2D","x":40,"y":0.19},
{"s":"3D","x":5,"y":0},{"s":"3D","x":10,"y":0.4},{"s":"3D","x":10,"y":0.25},{"s":"3D","x":10,"y":0.24},{"s":"3D","x":10,"y":0.19},{"s":"3D","x":10,"y":0.18},{"s":"3D","x":10,"y":0.155},{"s":"3D","x":10,"y":0.15},{"s":"3D","x":10,"y":0.135},{"s":"3D","x":10,"y":0.12},{"s":"3D","x":10,"y":0.1},{"s":"3D","x":10,"y":0.085},{"s":"3D","x":10,"y":0.07},{"s":"3D","x":10,"y":0.055},{"s":"3D","x":10,"y":0.04},{"s":"3D","x":10,"y":0.025},{"s":"3D","x":10,"y":0.012},{"s":"3D","x":10,"y":0},
{"s":"3D","x":15,"y":0.39},{"s":"3D","x":15,"y":0.318},{"s":"3D","x":15,"y":0.29},{"s":"3D","x":15,"y":0.26},{"s":"3D","x":15,"y":0.2},{"s":"3D","x":15,"y":0.19},{"s":"3D","x":15,"y":0.18},{"s":"3D","x":15,"y":0.17},{"s":"3D","x":15,"y":0.15},{"s":"3D","x":15,"y":0.14},{"s":"3D","x":15,"y":0.125},{"s":"3D","x":15,"y":0.11},{"s":"3D","x":15,"y":0.095},{"s":"3D","x":15,"y":0.08},{"s":"3D","x":15,"y":0.065},{"s":"3D","x":15,"y":0.05},{"s":"3D","x":15,"y":0.035},{"s":"3D","x":15,"y":0.02},
{"s":"3D","x":20,"y":0.558},{"s":"3D","x":20,"y":0.37},{"s":"3D","x":20,"y":0.36},{"s":"3D","x":20,"y":0.35},{"s":"3D","x":20,"y":0.32},{"s":"3D","x":20,"y":0.31},{"s":"3D","x":20,"y":0.28},{"s":"3D","x":20,"y":0.26},{"s":"3D","x":20,"y":0.24},{"s":"3D","x":20,"y":0.22},{"s":"3D","x":20,"y":0.2},{"s":"3D","x":20,"y":0.185},{"s":"3D","x":20,"y":0.17},{"s":"3D","x":20,"y":0.155},{"s":"3D","x":20,"y":0.14},{"s":"3D","x":20,"y":0.125},{"s":"3D","x":20,"y":0.1},{"s":"3D","x":20,"y":0.085},{"s":"3D","x":20,"y":0.055},{"s":"3D","x":20,"y":0.04},{"s":"3D","x":20,"y":0.02},
{"s":"3D","x":25,"y":0.52},{"s":"3D","x":25,"y":0.495},{"s":"3D","x":25,"y":0.465},{"s":"3D","x":25,"y":0.415},{"s":"3D","x":25,"y":0.4},{"s":"3D","x":25,"y":0.38},{"s":"3D","x":25,"y":0.36},{"s":"3D","x":25,"y":0.34},{"s":"3D","x":25,"y":0.31},{"s":"3D","x":25,"y":0.29},{"s":"3D","x":25,"y":0.24},{"s":"3D","x":25,"y":0.22},{"s":"3D","x":25,"y":0.2},{"s":"3D","x":25,"y":0.18},{"s":"3D","x":25,"y":0.14},{"s":"3D","x":25,"y":0.12},{"s":"3D","x":25,"y":0.11},{"s":"3D","x":25,"y":0.1},{"s":"3D","x":25,"y":0.05},
{"s":"3D","x":30,"y":0.57},{"s":"3D","x":30,"y":0.55},{"s":"3D","x":30,"y":0.525},{"s":"3D","x":30,"y":0.51},{"s":"3D","x":30,"y":0.5},{"s":"3D","x":30,"y":0.49},{"s":"3D","x":30,"y":0.45},{"s":"3D","x":30,"y":0.44},{"s":"3D","x":30,"y":0.39},{"s":"3D","x":30,"y":0.38},{"s":"3D","x":30,"y":0.36},{"s":"3D","x":30,"y":0.29},{"s":"3D","x":30,"y":0.27},{"s":"3D","x":30,"y":0.24},{"s":"3D","x":30,"y":0.22},{"s":"3D","x":30,"y":0.2},{"s":"3D","x":30,"y":0.18},{"s":"3D","x":30,"y":0.16},{"s":"3D","x":30,"y":0.14},{"s":"3D","x":30,"y":0.12},{"s":"3D","x":30,"y":0.1},{"s":"3D","x":30,"y":0.08},
{"s":"3D","x":35,"y":0.63},{"s":"3D","x":35,"y":0.6},{"s":"3D","x":35,"y":0.56},{"s":"3D","x":35,"y":0.53},{"s":"3D","x":35,"y":0.52},{"s":"3D","x":35,"y":0.48},{"s":"3D","x":35,"y":0.47},{"s":"3D","x":35,"y":0.46},{"s":"3D","x":35,"y":0.45},{"s":"3D","x":35,"y":0.43},{"s":"3D","x":35,"y":0.41},{"s":"3D","x":35,"y":0.38},{"s":"3D","x":35,"y":0.36},{"s":"3D","x":35,"y":0.34},{"s":"3D","x":35,"y":0.31},{"s":"3D","x":35,"y":0.29},{"s":"3D","x":35,"y":0.27},{"s":"3D","x":35,"y":0.25},{"s":"3D","x":35,"y":0.24},{"s":"3D","x":35,"y":0.22},{"s":"3D","x":35,"y":0.2},{"s":"3D","x":35,"y":0.16},{"s":"3D","x":35,"y":0.14},{"s":"3D","x":35,"y":0.12},{"s":"3D","x":35,"y":0.1},
{"s":"3D","x":40,"y":0.785},{"s":"3D","x":40,"y":0.57},{"s":"3D","x":40,"y":0.535},{"s":"3D","x":40,"y":0.48},{"s":"3D","x":40,"y":0.46},{"s":"3D","x":40,"y":0.44},{"s":"3D","x":40,"y":0.43},{"s":"3D","x":40,"y":0.42},{"s":"3D","x":40,"y":0.4},{"s":"3D","x":40,"y":0.385},{"s":"3D","x":40,"y":0.37},{"s":"3D","x":40,"y":0.35},{"s":"3D","x":40,"y":0.33},{"s":"3D","x":40,"y":0.31},{"s":"3D","x":40,"y":0.29},{"s":"3D","x":40,"y":0.27},{"s":"3D","x":40,"y":0.25},{"s":"3D","x":40,"y":0.22},{"s":"3D","x":40,"y":0.2},{"s":"3D","x":40,"y":0.17},{"s":"3D","x":40,"y":0.15},{"s":"3D","x":40,"y":0.13},{"s":"3D","x":40,"y":0.11},{"s":"3D","x":40,"y":0.05}],
"p23":[{"s":"D2","x":10,"y":0.408},{"s":"D2","x":10,"y":0.285},{"s":"D2","x":10,"y":0.237},{"s":"D2","x":10,"y":0.14},{"s":"D2","x":15,"y":0.21},{"s":"D2","x":15,"y":0.2},{"s":"D2","x":20,"y":0.05},{"s":"D2","x":25,"y":0.315},{"s":"D2","x":25,"y":0},{"s":"D2","x":25,"y":0.012},{"s":"D2","x":30,"y":0.05},{"s":"D2","x":30,"y":0.03},{"s":"D2","x":30,"y":0.01},{"s":"D2","x":30,"y":0},{"s":"D2","x":35,"y":0.18},{"s":"D2","x":35,"y":0.03},{"s":"D2","x":35,"y":0.02},{"s":"D2","x":35,"y":0.01},{"s":"D2","x":40,"y":0.27},{"s":"D2","x":40,"y":0.25},{"s":"D2","x":40,"y":0.2},{"s":"D2","x":40,"y":0.14},{"s":"D2","x":40,"y":0.12},{"s":"D2","x":40,"y":0.1},{"s":"D2","x":40,"y":0.08},{"s":"D2","x":40,"y":0.03},{"s":"D2","x":40,"y":0.02},{"s":"D2","x":40,"y":0.01},
{"s":"D","x":10,"y":0.428},{"s":"D","x":10,"y":0.42},{"s":"D","x":10,"y":0.257},{"s":"D","x":15,"y":0.34},{"s":"D","x":20,"y":0.455},{"s":"D","x":20,"y":0.35},{"s":"D","x":20,"y":0.28},{"s":"D","x":25,"y":0.515},{"s":"D","x":35,"y":0.43},{"s":"D","x":35,"y":0.23},{"s":"D","x":40,"y":0.385},{"s":"D","x":40,"y":0.34},{"s":"D","x":40,"y":0.04},
{"s":"2D","x":10,"y":0.37},{"s":"2D","x":10,"y":0.36},{"s":"2D","x":10,"y":0.34},{"s":"2D","x":10,"y":0.18},{"s":"2D","x":10,"y":0.17},{"s":"2D","x":10,"y":0},{"s":"2D","x":15,"y":0.353},{"s":"2D","x":15,"y":0.16},{"s":"2D","x":20,"y":0.08},{"s":"2D","x":20,"y":0.07},{"s":"2D","x":20,"y":0},{"s":"2D","x":25,"y":0.43},{"s":"2D","x":25,"y":0.42},{"s":"2D","x":25,"y":0.41},{"s":"2D","x":25,"y":0.28},{"s":"2D","x":25,"y":0.26},{"s":"2D","x":25,"y":0.08},{"s":"2D","x":25,"y":0.06},{"s":"2D","x":25,"y":0.02},{"s":"2D","x":30,"y":0.59},{"s":"2D","x":30,"y":0.52},{"s":"2D","x":30,"y":0.36},{"s":"2D","x":30,"y":0.12},{"s":"2D","x":30,"y":0.11},{"s":"2D","x":30,"y":0.09},{"s":"2D","x":30,"y":0.07},{"s":"2D","x":35,"y":0.64},{"s":"2D","x":35,"y":0.45},{"s":"2D","x":35,"y":0.15},{"s":"2D","x":35,"y":0.13},{"s":"2D","x":35,"y":0.11},{"s":"2D","x":35,"y":0.09},{"s":"2D","x":35,"y":0.07},{"s":"2D","x":40,"y":0.785},{"s":"2D","x":40,"y":0.74},{"s":"2D","x":40,"y":0.44},{"s":"2D","x":40,"y":0.42},{"s":"2D","x":40,"y":0.34},{"s":"2D","x":40,"y":0.33},{"s":"2D","x":40,"y":0.25},{"s":"2D","x":40,"y":0.16},{"s":"2D","x":40,"y":0.15},{"s":"2D","x":40,"y":0.12},{"s":"2D","x":40,"y":0.11},
{"s":"3D","x":5,"y":0},{"s":"3D","x":10,"y":0.305},{"s":"3D","x":10,"y":0.29},{"s":"3D","x":10,"y":0.22},{"s":"3D","x":10,"y":0.2},{"s":"3D","x":10,"y":0.16},{"s":"3D","x":10,"y":0.15},{"s":"3D","x":10,"y":0.13},{"s":"3D","x":10,"y":0.115},{"s":"3D","x":10,"y":0.1},{"s":"3D","x":10,"y":0.085},{"s":"3D","x":10,"y":0.07},{"s":"3D","x":10,"y":0.055},{"s":"3D","x":10,"y":0.04},{"s":"3D","x":10,"y":0.025},{"s":"3D","x":10,"y":0.01},
{"s":"3D","x":15,"y":0.525},{"s":"3D","x":15,"y":0.305},{"s":"3D","x":15,"y":0.27},{"s":"3D","x":15,"y":0.26},{"s":"3D","x":15,"y":0.25},{"s":"3D","x":15,"y":0.24},{"s":"3D","x":15,"y":0.19},{"s":"3D","x":15,"y":0.17},{"s":"3D","x":15,"y":0.145},{"s":"3D","x":15,"y":0.13},{"s":"3D","x":15,"y":0.115},{"s":"3D","x":15,"y":0.1},{"s":"3D","x":15,"y":0.085},{"s":"3D","x":15,"y":0.07},{"s":"3D","x":15,"y":0.055},{"s":"3D","x":15,"y":0.04},{"s":"3D","x":15,"y":0.025},{"s":"3D","x":15,"y":0.01},{"s":"3D","x":15,"y":0},
{"s":"3D","x":20,"y":0.487},{"s":"3D","x":20,"y":0.388},{"s":"3D","x":20,"y":0.36},{"s":"3D","x":20,"y":0.35},{"s":"3D","x":20,"y":0.32},{"s":"3D","x":20,"y":0.31},{"s":"3D","x":20,"y":0.3},{"s":"3D","x":20,"y":0.27},{"s":"3D","x":20,"y":0.26},{"s":"3D","x":20,"y":0.23},{"s":"3D","x":20,"y":0.215},{"s":"3D","x":20,"y":0.2},{"s":"3D","x":20,"y":0.185},{"s":"3D","x":20,"y":0.17},{"s":"3D","x":20,"y":0.155},{"s":"3D","x":20,"y":0.14},{"s":"3D","x":20,"y":0.125},{"s":"3D","x":20,"y":0.11},{"s":"3D","x":20,"y":0.095},{"s":"3D","x":20,"y":0.025},
{"s":"3D","x":25,"y":0.62},{"s":"3D","x":25,"y":0.595},{"s":"3D","x":25,"y":0.505},{"s":"3D","x":25,"y":0.475},{"s":"3D","x":25,"y":0.4},{"s":"3D","x":25,"y":0.39},{"s":"3D","x":25,"y":0.37},{"s":"3D","x":25,"y":0.36},{"s":"3D","x":25,"y":0.34},{"s":"3D","x":25,"y":0.33},{"s":"3D","x":25,"y":0.3},{"s":"3D","x":25,"y":0.23},{"s":"3D","x":25,"y":0.21},{"s":"3D","x":25,"y":0.19},{"s":"3D","x":25,"y":0.17},{"s":"3D","x":25,"y":0.15},{"s":"3D","x":25,"y":0.135},{"s":"3D","x":25,"y":0.12},{"s":"3D","x":25,"y":0.1},{"s":"3D","x":25,"y":0.04},
{"s":"3D","x":30,"y":0.75},{"s":"3D","x":30,"y":0.683},{"s":"3D","x":30,"y":0.575},{"s":"3D","x":30,"y":0.56},{"s":"3D","x":30,"y":0.54},{"s":"3D","x":30,"y":0.53},{"s":"3D","x":30,"y":0.51},{"s":"3D","x":30,"y":0.5},{"s":"3D","x":30,"y":0.47},{"s":"3D","x":30,"y":0.45},{"s":"3D","x":30,"y":0.44},{"s":"3D","x":30,"y":0.43},{"s":"3D","x":30,"y":0.42},{"s":"3D","x":30,"y":0.4},{"s":"3D","x":30,"y":0.39},{"s":"3D","x":30,"y":0.33},{"s":"3D","x":30,"y":0.31},{"s":"3D","x":30,"y":0.28},{"s":"3D","x":30,"y":0.26},{"s":"3D","x":30,"y":0.24},{"s":"3D","x":30,"y":0.22},{"s":"3D","x":30,"y":0.2},{"s":"3D","x":30,"y":0.18},{"s":"3D","x":30,"y":0.16},{"s":"3D","x":30,"y":0.14},{"s":"3D","x":30,"y":0.125},
{"s":"3D","x":35,"y":0.78},{"s":"3D","x":35,"y":0.71},{"s":"3D","x":35,"y":0.66},{"s":"3D","x":35,"y":0.65},{"s":"3D","x":35,"y":0.6},{"s":"3D","x":35,"y":0.59},{"s":"3D","x":35,"y":0.56},{"s":"3D","x":35,"y":0.54},{"s":"3D","x":35,"y":0.5},{"s":"3D","x":35,"y":0.48},{"s":"3D","x":35,"y":0.47},{"s":"3D","x":35,"y":0.46},{"s":"3D","x":35,"y":0.44},{"s":"3D","x":35,"y":0.4},{"s":"3D","x":35,"y":0.39},{"s":"3D","x":35,"y":0.35},{"s":"3D","x":35,"y":0.33},{"s":"3D","x":35,"y":0.32},{"s":"3D","x":35,"y":0.3},{"s":"3D","x":35,"y":0.28},{"s":"3D","x":35,"y":0.26},{"s":"3D","x":35,"y":0.245},{"s":"3D","x":35,"y":0.225},{"s":"3D","x":35,"y":0.205},{"s":"3D","x":35,"y":0.19},{"s":"3D","x":35,"y":0.17},{"s":"3D","x":35,"y":0.05},
{"s":"3D","x":40,"y":0.86},{"s":"3D","x":40,"y":0.735},{"s":"3D","x":40,"y":0.66},{"s":"3D","x":40,"y":0.63},{"s":"3D","x":40,"y":0.59},{"s":"3D","x":40,"y":0.58},{"s":"3D","x":40,"y":0.56},{"s":"3D","x":40,"y":0.55},{"s":"3D","x":40,"y":0.53},{"s":"3D","x":40,"y":0.5},{"s":"3D","x":40,"y":0.48},{"s":"3D","x":40,"y":0.47},{"s":"3D","x":40,"y":0.46},{"s":"3D","x":40,"y":0.45},{"s":"3D","x":40,"y":0.41},{"s":"3D","x":40,"y":0.4},{"s":"3D","x":40,"y":0.38},{"s":"3D","x":40,"y":0.37},{"s":"3D","x":40,"y":0.31},{"s":"3D","x":40,"y":0.3},{"s":"3D","x":40,"y":0.28},{"s":"3D","x":40,"y":0.26},{"s":"3D","x":40,"y":0.245},{"s":"3D","x":40,"y":0.23},{"s":"3D","x":40,"y":0.215},{"s":"3D","x":40,"y":0.2},{"s":"3D","x":40,"y":0.19},{"s":"3D","x":40,"y":0.17}],
"l11":[{"s":"D2","x":5,"y":0.009,"l":-0.03,"h":0.05},{"s":"D2","x":10,"y":0.09,"l":0.07,"h":0.11},{"s":"D2","x":15,"y":0.118,"l":0.098,"h":0.138},{"s":"D2","x":20,"y":0.123,"l":0.103,"h":0.143},{"s":"D2","x":25,"y":0.109,"l":0.089,"h":0.129},{"s":"D2","x":30,"y":0.101,"l":0.081,"h":0.121},{"s":"D2","x":35,"y":0.103,"l":0.083,"h":0.123},{"s":"D2","x":40,"y":0.139,"l":0.1,"h":0.178},
{"s":"D","x":5,"y":0.009,"l":-0.03,"h":0.05},{"s":"D","x":10,"y":0.072,"l":0.052,"h":0.092},{"s":"D","x":15,"y":0.121,"l":0.101,"h":0.141},{"s":"D","x":20,"y":0.144,"l":0.124,"h":0.164},{"s":"D","x":25,"y":0.153,"l":0.133,"h":0.173},{"s":"D","x":30,"y":0.156,"l":0.136,"h":0.176},{"s":"D","x":35,"y":0.16,"l":0.14,"h":0.18},{"s":"D","x":40,"y":0.17,"l":0.13,"h":0.21},
{"s":"2D","x":5,"y":0.018,"l":-0.022,"h":0.058},{"s":"2D","x":10,"y":0.113,"l":0.09,"h":0.136},{"s":"2D","x":15,"y":0.17,"l":0.148,"h":0.192},{"s":"2D","x":20,"y":0.192,"l":0.17,"h":0.214},{"s":"2D","x":25,"y":0.202,"l":0.18,"h":0.224},{"s":"2D","x":30,"y":0.212,"l":0.19,"h":0.234},{"s":"2D","x":35,"y":0.242,"l":0.22,"h":0.264},{"s":"2D","x":40,"y":0.3,"l":0.26,"h":0.34},
{"s":"3D","x":5,"y":0,"l":-0.045,"h":0.045},{"s":"3D","x":10,"y":0.116,"l":0.09,"h":0.142},{"s":"3D","x":15,"y":0.2,"l":0.175,"h":0.225},{"s":"3D","x":20,"y":0.25,"l":0.225,"h":0.275},{"s":"3D","x":25,"y":0.282,"l":0.257,"h":0.307},{"s":"3D","x":30,"y":0.313,"l":0.288,"h":0.338},{"s":"3D","x":35,"y":0.349,"l":0.324,"h":0.374},{"s":"3D","x":40,"y":0.402,"l":0.358,"h":0.446}],
"l12":[{"s":"D2","x":5,"y":0.013,"l":-0.025,"h":0.05},{"s":"D2","x":10,"y":0.047,"l":0.027,"h":0.067},{"s":"D2","x":15,"y":0.083,"l":0.063,"h":0.103},{"s":"D2","x":20,"y":0.11,"l":0.09,"h":0.13},{"s":"D2","x":25,"y":0.13,"l":0.11,"h":0.15},{"s":"D2","x":30,"y":0.14,"l":0.12,"h":0.16},{"s":"D2","x":35,"y":0.145,"l":0.125,"h":0.165},{"s":"D2","x":40,"y":0.137,"l":0.1,"h":0.175},
{"s":"D","x":5,"y":0.018,"l":-0.02,"h":0.055},{"s":"D","x":10,"y":0.08,"l":0.058,"h":0.102},{"s":"D","x":15,"y":0.116,"l":0.096,"h":0.136},{"s":"D","x":20,"y":0.13,"l":0.11,"h":0.15},{"s":"D","x":25,"y":0.142,"l":0.122,"h":0.162},{"s":"D","x":30,"y":0.156,"l":0.136,"h":0.176},{"s":"D","x":35,"y":0.19,"l":0.17,"h":0.21},{"s":"D","x":40,"y":0.253,"l":0.215,"h":0.29},
{"s":"2D","x":5,"y":0.018,"l":-0.02,"h":0.058},{"s":"2D","x":10,"y":0.09,"l":0.068,"h":0.112},{"s":"2D","x":15,"y":0.161,"l":0.139,"h":0.183},{"s":"2D","x":20,"y":0.223,"l":0.2,"h":0.246},{"s":"2D","x":25,"y":0.266,"l":0.243,"h":0.289},{"s":"2D","x":30,"y":0.292,"l":0.268,"h":0.316},{"s":"2D","x":35,"y":0.306,"l":0.282,"h":0.33},{"s":"2D","x":40,"y":0.29,"l":0.25,"h":0.33},
{"s":"3D","x":5,"y":0.023,"l":-0.02,"h":0.068},{"s":"3D","x":10,"y":0.102,"l":0.078,"h":0.126},{"s":"3D","x":15,"y":0.175,"l":0.151,"h":0.199},{"s":"3D","x":20,"y":0.239,"l":0.215,"h":0.263},{"s":"3D","x":25,"y":0.297,"l":0.273,"h":0.321},{"s":"3D","x":30,"y":0.339,"l":0.315,"h":0.363},{"s":"3D","x":35,"y":0.366,"l":0.342,"h":0.39},{"s":"3D","x":40,"y":0.372,"l":0.33,"h":0.414}],
"l13":[{"s":"D2","x":5,"y":0.004,"l":-0.03,"h":0.04},{"s":"D2","x":10,"y":0.066,"l":0.048,"h":0.084},{"s":"D2","x":15,"y":0.1,"l":0.082,"h":0.118},{"s":"D2","x":20,"y":0.12,"l":0.102,"h":0.138},{"s":"D2","x":25,"y":0.13,"l":0.112,"h":0.148},{"s":"D2","x":30,"y":0.137,"l":0.119,"h":0.155},{"s":"D2","x":35,"y":0.144,"l":0.126,"h":0.162},{"s":"D2","x":40,"y":0.154,"l":0.12,"h":0.188},
{"s":"D","x":5,"y":0.004,"l":-0.03,"h":0.04},{"s":"D","x":10,"y":0.08,"l":0.06,"h":0.1},{"s":"D","x":15,"y":0.118,"l":0.098,"h":0.138},{"s":"D","x":20,"y":0.13,"l":0.11,"h":0.15},{"s":"D","x":25,"y":0.134,"l":0.114,"h":0.154},{"s":"D","x":30,"y":0.137,"l":0.117,"h":0.157},{"s":"D","x":35,"y":0.151,"l":0.131,"h":0.171},{"s":"D","x":40,"y":0.19,"l":0.155,"h":0.225},
{"s":"2D","x":5,"y":0.009,"l":-0.03,"h":0.048},{"s":"2D","x":10,"y":0.094,"l":0.072,"h":0.116},{"s":"2D","x":15,"y":0.151,"l":0.129,"h":0.173},{"s":"2D","x":20,"y":0.183,"l":0.161,"h":0.205},{"s":"2D","x":25,"y":0.206,"l":0.184,"h":0.228},{"s":"2D","x":30,"y":0.228,"l":0.206,"h":0.25},{"s":"2D","x":35,"y":0.264,"l":0.242,"h":0.286},{"s":"2D","x":40,"y":0.318,"l":0.28,"h":0.356},
{"s":"3D","x":5,"y":0,"l":-0.04,"h":0.045},{"s":"3D","x":10,"y":0.1,"l":0.076,"h":0.124},{"s":"3D","x":15,"y":0.185,"l":0.161,"h":0.209},{"s":"3D","x":20,"y":0.256,"l":0.232,"h":0.28},{"s":"3D","x":25,"y":0.309,"l":0.285,"h":0.333},{"s":"3D","x":30,"y":0.345,"l":0.321,"h":0.369},{"s":"3D","x":35,"y":0.37,"l":0.346,"h":0.394},{"s":"3D","x":40,"y":0.385,"l":0.342,"h":0.428}],
"l21":[{"s":"D2","x":5,"y":0.004,"l":-0.03,"h":0.04},{"s":"D2","x":10,"y":0.061,"l":0.043,"h":0.079},{"s":"D2","x":15,"y":0.091,"l":0.073,"h":0.109},{"s":"D2","x":20,"y":0.101,"l":0.083,"h":0.119},{"s":"D2","x":25,"y":0.099,"l":0.081,"h":0.117},{"s":"D2","x":30,"y":0.096,"l":0.078,"h":0.114},{"s":"D2","x":35,"y":0.102,"l":0.084,"h":0.12},{"s":"D2","x":40,"y":0.125,"l":0.09,"h":0.16},
{"s":"D","x":5,"y":0.009,"l":-0.028,"h":0.045},{"s":"D","x":10,"y":0.061,"l":0.041,"h":0.081},{"s":"D","x":15,"y":0.091,"l":0.071,"h":0.111},{"s":"D","x":20,"y":0.113,"l":0.093,"h":0.133},{"s":"D","x":25,"y":0.128,"l":0.108,"h":0.148},{"s":"D","x":30,"y":0.137,"l":0.117,"h":0.157},{"s":"D","x":35,"y":0.145,"l":0.125,"h":0.165},{"s":"D","x":40,"y":0.153,"l":0.118,"h":0.188},
{"s":"2D","x":5,"y":0.001,"l":-0.038,"h":0.04},{"s":"2D","x":10,"y":0.07,"l":0.048,"h":0.092},{"s":"2D","x":15,"y":0.118,"l":0.096,"h":0.14},{"s":"2D","x":20,"y":0.144,"l":0.122,"h":0.166},{"s":"2D","x":25,"y":0.161,"l":0.139,"h":0.183},{"s":"2D","x":30,"y":0.185,"l":0.163,"h":0.207},{"s":"2D","x":35,"y":0.223,"l":0.201,"h":0.245},{"s":"2D","x":40,"y":0.285,"l":0.245,"h":0.325},
{"s":"3D","x":5,"y":0.02,"l":-0.025,"h":0.065},{"s":"3D","x":10,"y":0.123,"l":0.098,"h":0.148},{"s":"3D","x":15,"y":0.18,"l":0.156,"h":0.204},{"s":"3D","x":20,"y":0.213,"l":0.189,"h":0.237},{"s":"3D","x":25,"y":0.232,"l":0.208,"h":0.256},{"s":"3D","x":30,"y":0.256,"l":0.232,"h":0.28},{"s":"3D","x":35,"y":0.299,"l":0.275,"h":0.323},{"s":"3D","x":40,"y":0.366,"l":0.322,"h":0.41}],
"l22":[{"s":"D2","x":5,"y":0.004,"l":-0.03,"h":0.04},{"s":"D2","x":10,"y":0.07,"l":0.052,"h":0.088},{"s":"D2","x":15,"y":0.104,"l":0.086,"h":0.122},{"s":"D2","x":20,"y":0.118,"l":0.1,"h":0.136},{"s":"D2","x":25,"y":0.118,"l":0.1,"h":0.136},{"s":"D2","x":30,"y":0.115,"l":0.097,"h":0.133},{"s":"D2","x":35,"y":0.106,"l":0.088,"h":0.124},{"s":"D2","x":40,"y":0.099,"l":0.065,"h":0.133},
{"s":"D","x":5,"y":0.004,"l":-0.03,"h":0.04},{"s":"D","x":10,"y":0.085,"l":0.065,"h":0.105},{"s":"D","x":15,"y":0.123,"l":0.103,"h":0.143},{"s":"D","x":20,"y":0.128,"l":0.108,"h":0.148},{"s":"D","x":25,"y":0.123,"l":0.103,"h":0.143},{"s":"D","x":30,"y":0.125,"l":0.105,"h":0.145},{"s":"D","x":35,"y":0.151,"l":0.131,"h":0.171},{"s":"D","x":40,"y":0.213,"l":0.178,"h":0.248},
{"s":"2D","x":5,"y":0.004,"l":-0.034,"h":0.042},{"s":"2D","x":10,"y":0.085,"l":0.063,"h":0.107},{"s":"2D","x":15,"y":0.137,"l":0.115,"h":0.159},{"s":"2D","x":20,"y":0.153,"l":0.131,"h":0.175},{"s":"2D","x":25,"y":0.169,"l":0.147,"h":0.191},{"s":"2D","x":30,"y":0.204,"l":0.182,"h":0.226},{"s":"2D","x":35,"y":0.27,"l":0.248,"h":0.292},{"s":"2D","x":40,"y":0.361,"l":0.322,"h":0.4},
{"s":"3D","x":5,"y":0.009,"l":-0.035,"h":0.053},{"s":"3D","x":10,"y":0.085,"l":0.06,"h":0.11},{"s":"3D","x":15,"y":0.156,"l":0.132,"h":0.18},{"s":"3D","x":20,"y":0.228,"l":0.204,"h":0.252},{"s":"3D","x":25,"y":0.294,"l":0.27,"h":0.318},{"s":"3D","x":30,"y":0.337,"l":0.313,"h":0.361},{"s":"3D","x":35,"y":0.361,"l":0.337,"h":0.385},{"s":"3D","x":40,"y":0.361,"l":0.318,"h":0.404}],
"l23":[{"s":"D2","x":5,"y":0.004,"l":-0.03,"h":0.038},{"s":"D2","x":10,"y":0.061,"l":0.043,"h":0.079},{"s":"D2","x":15,"y":0.088,"l":0.07,"h":0.106},{"s":"D2","x":20,"y":0.094,"l":0.076,"h":0.112},{"s":"D2","x":25,"y":0.092,"l":0.074,"h":0.11},{"s":"D2","x":30,"y":0.09,"l":0.072,"h":0.108},{"s":"D2","x":35,"y":0.099,"l":0.081,"h":0.117},{"s":"D2","x":40,"y":0.123,"l":0.09,"h":0.156},
{"s":"D","x":5,"y":0.009,"l":-0.028,"h":0.045},{"s":"D","x":10,"y":0.08,"l":0.06,"h":0.1},{"s":"D","x":15,"y":0.121,"l":0.101,"h":0.141},{"s":"D","x":20,"y":0.134,"l":0.114,"h":0.154},{"s":"D","x":25,"y":0.135,"l":0.115,"h":0.155},{"s":"D","x":30,"y":0.132,"l":0.112,"h":0.152},{"s":"D","x":35,"y":0.139,"l":0.119,"h":0.159},{"s":"D","x":40,"y":0.166,"l":0.13,"h":0.202},
{"s":"2D","x":5,"y":0.013,"l":-0.025,"h":0.05},{"s":"2D","x":10,"y":0.08,"l":0.058,"h":0.102},{"s":"2D","x":15,"y":0.123,"l":0.101,"h":0.145},{"s":"2D","x":20,"y":0.164,"l":0.142,"h":0.186},{"s":"2D","x":25,"y":0.202,"l":0.18,"h":0.224},{"s":"2D","x":30,"y":0.247,"l":0.225,"h":0.269},{"s":"2D","x":35,"y":0.304,"l":0.282,"h":0.326},{"s":"2D","x":40,"y":0.378,"l":0.34,"h":0.416},
{"s":"3D","x":5,"y":0,"l":-0.04,"h":0.04},{"s":"3D","x":10,"y":0.08,"l":0.056,"h":0.104},{"s":"3D","x":15,"y":0.151,"l":0.127,"h":0.175},{"s":"3D","x":20,"y":0.223,"l":0.199,"h":0.247},{"s":"3D","x":25,"y":0.29,"l":0.266,"h":0.314},{"s":"3D","x":30,"y":0.361,"l":0.337,"h":0.385},{"s":"3D","x":35,"y":0.428,"l":0.404,"h":0.452},{"s":"3D","x":40,"y":0.497,"l":0.453,"h":0.541}]
},
"spacing":28,
"hconcat":[
{"spacing":0,"hconcat":[
{"width":42,"height":728,"view":{"stroke":null},"data":{"values":[{"t":"Effectiveness"}]},"mark":{"type":"text","angle":270,"fontSize":27.7,"color":"#000"},"encoding":{"text":{"field":"t"}}},
{"columns":3,"spacing":7,"concat":[
{"width":329.5,"height":359,"layer":[{"encoding":{"x":{"field":"x","type":"quantitative","scale":{"domain":[3.25,41.75],"nice":false,"zero":false},"axis":{"title":null,"values":[5,10,15,20,25,30,35,40],"grid":true,"labels":false,"ticks":false,"gridWidth":{"condition":{"test":"datum.value%10==0","value":1.3},"value":0.7}}},"y":{"field":"y","type":"quantitative","scale":{"domain":[-0.0915,0.935],"nice":false,"zero":false},"axis":{"title":null,"values":[0,0.125,0.25,0.375,0.5,0.625,0.75,0.875],"grid":true,"labelExpr":"datum.value*100%25==0?format(datum.value,'.2f'):''","tickOpacity":{"condition":{"test":"datum.value*100%25==0","value":1},"value":0},"gridWidth":{"condition":{"test":"datum.value*100%25==0","value":1.3},"value":0.7}}}},"layer":[
{"data":{"name":"p11"},"mark":{"type":"point","filled":true,"opacity":1,"size":46},"encoding":{"color":{"field":"s","type":"nominal","legend":null,"scale":{"domain":["D2","D","2D","3D"],"range":["#4876ff","#d6cf00","#8b2323","#008b00"]}}}},
{"data":{"name":"l11"},"transform":[{"filter":"datum.s=='D2'"}],"mark":{"type":"area","fill":"#999999","opacity":0.4,"interpolate":"monotone"},"encoding":{"y":{"field":"l"},"y2":{"field":"h"}}},
{"data":{"name":"l11"},"transform":[{"filter":"datum.s=='D2'"}],"mark":{"type":"line","color":"#4876ff","strokeWidth":3,"interpolate":"monotone"},"encoding":{}},
{"data":{"name":"l11"},"transform":[{"filter":"datum.s=='D'"}],"mark":{"type":"area","fill":"#999999","opacity":0.4,"interpolate":"monotone"},"encoding":{"y":{"field":"l"},"y2":{"field":"h"}}},
{"data":{"name":"l11"},"transform":[{"filter":"datum.s=='D'"}],"mark":{"type":"line","color":"#d6cf00","strokeWidth":3,"interpolate":"monotone"},"encoding":{}},
{"data":{"name":"l11"},"transform":[{"filter":"datum.s=='2D'"}],"mark":{"type":"area","fill":"#999999","opacity":0.4,"interpolate":"monotone"},"encoding":{"y":{"field":"l"},"y2":{"field":"h"}}},
{"data":{"name":"l11"},"transform":[{"filter":"datum.s=='2D'"}],"mark":{"type":"line","color":"#8b2323","strokeWidth":3,"interpolate":"monotone"},"encoding":{}},
{"data":{"name":"l11"},"transform":[{"filter":"datum.s=='3D'"}],"mark":{"type":"area","fill":"#999999","opacity":0.4,"interpolate":"monotone"},"encoding":{"y":{"field":"l"},"y2":{"field":"h"}}},
{"data":{"name":"l11"},"transform":[{"filter":"datum.s=='3D'"}],"mark":{"type":"line","color":"#008b00","strokeWidth":3,"interpolate":"monotone"},"encoding":{}}]},
{"data":{"values":[{"t":"Crop Productivity"}]},"mark":{"type":"rect","fill":"#d9d9d9","stroke":"#333333","strokeWidth":1.5},"encoding":{"x":{"datum":3.25,"axis":{"title":null}},"x2":{"datum":41.75},"y":{"datum":0.935,"axis":{"title":null}},"y2":{"datum":1.035}}},
{"data":{"values":[{"t":"Crop Productivity"}]},"mark":{"type":"text","fontSize":21.7,"color":"#1a1a1a"},"encoding":{"text":{"field":"t"},"x":{"datum":22.5,"axis":{"title":null}},"y":{"datum":0.985,"axis":{"title":null}}}}
]},
{"width":329.5,"height":359,"layer":[{"encoding":{"x":{"field":"x","type":"quantitative","scale":{"domain":[3.25,41.75],"nice":false,"zero":false},"axis":{"title":null,"values":[5,10,15,20,25,30,35,40],"grid":true,"labels":false,"ticks":false,"gridWidth":{"condition":{"test":"datum.value%10==0","value":1.3},"value":0.7}}},"y":{"field":"y","type":"quantitative","scale":{"domain":[-0.0915,0.935],"nice":false,"zero":false},"axis":{"title":null,"values":[0,0.125,0.25,0.375,0.5,0.625,0.75,0.875],"grid":true,"labels":false,"ticks":false,"gridWidth":{"condition":{"test":"datum.value*100%25==0","value":1.3},"value":0.7}}}},"layer":[
{"data":{"name":"p12"},"mark":{"type":"point","filled":true,"opacity":1,"size":46},"encoding":{"color":{"field":"s","type":"nominal","legend":null,"scale":{"domain":["D2","D","2D","3D"],"range":["#4876ff","#d6cf00","#8b2323","#008b00"]}}}},
{"data":{"name":"l12"},"transform":[{"filter":"datum.s=='D2'"}],"mark":{"type":"area","fill":"#999999","opacity":0.4,"interpolate":"monotone"},"encoding":{"y":{"field":"l"},"y2":{"field":"h"}}},
{"data":{"name":"l12"},"transform":[{"filter":"datum.s=='D2'"}],"mark":{"type":"line","color":"#4876ff","strokeWidth":3,"interpolate":"monotone"},"encoding":{}},
{"data":{"name":"l12"},"transform":[{"filter":"datum.s=='D'"}],"mark":{"type":"area","fill":"#999999","opacity":0.4,"interpolate":"monotone"},"encoding":{"y":{"field":"l"},"y2":{"field":"h"}}},
{"data":{"name":"l12"},"transform":[{"filter":"datum.s=='D'"}],"mark":{"type":"line","color":"#d6cf00","strokeWidth":3,"interpolate":"monotone"},"encoding":{}},
{"data":{"name":"l12"},"transform":[{"filter":"datum.s=='2D'"}],"mark":{"type":"area","fill":"#999999","opacity":0.4,"interpolate":"monotone"},"encoding":{"y":{"field":"l"},"y2":{"field":"h"}}},
{"data":{"name":"l12"},"transform":[{"filter":"datum.s=='2D'"}],"mark":{"type":"line","color":"#8b2323","strokeWidth":3,"interpolate":"monotone"},"encoding":{}},
{"data":{"name":"l12"},"transform":[{"filter":"datum.s=='3D'"}],"mark":{"type":"area","fill":"#999999","opacity":0.4,"interpolate":"monotone"},"encoding":{"y":{"field":"l"},"y2":{"field":"h"}}},
{"data":{"name":"l12"},"transform":[{"filter":"datum.s=='3D'"}],"mark":{"type":"line","color":"#008b00","strokeWidth":3,"interpolate":"monotone"},"encoding":{}}]},
{"data":{"values":[{"t":"Fire Management"}]},"mark":{"type":"rect","fill":"#d9d9d9","stroke":"#333333","strokeWidth":1.5},"encoding":{"x":{"datum":3.25,"axis":{"title":null}},"x2":{"datum":41.75},"y":{"datum":0.935,"axis":{"title":null}},"y2":{"datum":1.035}}},
{"data":{"values":[{"t":"Fire Management"}]},"mark":{"type":"text","fontSize":21.7,"color":"#1a1a1a"},"encoding":{"text":{"field":"t"},"x":{"datum":22.5,"axis":{"title":null}},"y":{"datum":0.985,"axis":{"title":null}}}}
]},
{"width":329.5,"height":359,"layer":[{"encoding":{"x":{"field":"x","type":"quantitative","scale":{"domain":[3.25,41.75],"nice":false,"zero":false},"axis":{"title":null,"values":[5,10,15,20,25,30,35,40],"grid":true,"labels":false,"ticks":false,"gridWidth":{"condition":{"test":"datum.value%10==0","value":1.3},"value":0.7}}},"y":{"field":"y","type":"quantitative","scale":{"domain":[-0.0915,0.935],"nice":false,"zero":false},"axis":{"title":null,"values":[0,0.125,0.25,0.375,0.5,0.625,0.75,0.875],"grid":true,"labels":false,"ticks":false,"gridWidth":{"condition":{"test":"datum.value*100%25==0","value":1.3},"value":0.7}}}},"layer":[
{"data":{"name":"p13"},"mark":{"type":"point","filled":true,"opacity":1,"size":46},"encoding":{"color":{"field":"s","type":"nominal","legend":null,"scale":{"domain":["D2","D","2D","3D"],"range":["#4876ff","#d6cf00","#8b2323","#008b00"]}}}},
{"data":{"name":"l13"},"transform":[{"filter":"datum.s=='D2'"}],"mark":{"type":"area","fill":"#999999","opacity":0.4,"interpolate":"monotone"},"encoding":{"y":{"field":"l"},"y2":{"field":"h"}}},
{"data":{"name":"l13"},"transform":[{"filter":"datum.s=='D2'"}],"mark":{"type":"line","color":"#4876ff","strokeWidth":3,"interpolate":"monotone"},"encoding":{}},
{"data":{"name":"l13"},"transform":[{"filter":"datum.s=='D'"}],"mark":{"type":"area","fill":"#999999","opacity":0.4,"interpolate":"monotone"},"encoding":{"y":{"field":"l"},"y2":{"field":"h"}}},
{"data":{"name":"l13"},"transform":[{"filter":"datum.s=='D'"}],"mark":{"type":"line","color":"#d6cf00","strokeWidth":3,"interpolate":"monotone"},"encoding":{}},
{"data":{"name":"l13"},"transform":[{"filter":"datum.s=='2D'"}],"mark":{"type":"area","fill":"#999999","opacity":0.4,"interpolate":"monotone"},"encoding":{"y":{"field":"l"},"y2":{"field":"h"}}},
{"data":{"name":"l13"},"transform":[{"filter":"datum.s=='2D'"}],"mark":{"type":"line","color":"#8b2323","strokeWidth":3,"interpolate":"monotone"},"encoding":{}},
{"data":{"name":"l13"},"transform":[{"filter":"datum.s=='3D'"}],"mark":{"type":"area","fill":"#999999","opacity":0.4,"interpolate":"monotone"},"encoding":{"y":{"field":"l"},"y2":{"field":"h"}}},
{"data":{"name":"l13"},"transform":[{"filter":"datum.s=='3D'"}],"mark":{"type":"line","color":"#008b00","strokeWidth":3,"interpolate":"monotone"},"encoding":{}}]},
{"data":{"values":[{"t":"Rural Development"}]},"mark":{"type":"rect","fill":"#d9d9d9","stroke":"#333333","strokeWidth":1.5},"encoding":{"x":{"datum":3.25,"axis":{"title":null}},"x2":{"datum":41.75},"y":{"datum":0.935,"axis":{"title":null}},"y2":{"datum":1.035}}},
{"data":{"values":[{"t":"Rural Development"}]},"mark":{"type":"text","fontSize":21.7,"color":"#1a1a1a"},"encoding":{"text":{"field":"t"},"x":{"datum":22.5,"axis":{"title":null}},"y":{"datum":0.985,"axis":{"title":null}}}},
{"data":{"values":[{"t":"Aggregate"}]},"mark":{"type":"rect","fill":"#d9d9d9","stroke":"#333333","strokeWidth":1.5},"encoding":{"x":{"datum":41.75,"axis":{"title":null}},"x2":{"datum":45.9},"y":{"datum":-0.0915,"axis":{"title":null}},"y2":{"datum":0.935}}},
{"data":{"values":[{"t":"Aggregate"}]},"mark":{"type":"text","fontSize":21.7,"color":"#1a1a1a","angle":90},"encoding":{"text":{"field":"t"},"x":{"datum":43.82,"axis":{"title":null}},"y":{"datum":0.4218,"axis":{"title":null}}}}
]},
{"width":329.5,"height":359,"layer":[{"encoding":{"x":{"field":"x","type":"quantitative","scale":{"domain":[3.25,41.75],"nice":false,"zero":false},"axis":{"title":null,"values":[5,10,15,20,25,30,35,40],"grid":true,"labelExpr":"datum.value%10==0?datum.label:''","tickOpacity":{"condition":{"test":"datum.value%10==0","value":1},"value":0},"gridWidth":{"condition":{"test":"datum.value%10==0","value":1.3},"value":0.7}}},"y":{"field":"y","type":"quantitative","scale":{"domain":[-0.0915,0.935],"nice":false,"zero":false},"axis":{"title":null,"values":[0,0.125,0.25,0.375,0.5,0.625,0.75,0.875],"grid":true,"labelExpr":"datum.value*100%25==0?format(datum.value,'.2f'):''","tickOpacity":{"condition":{"test":"datum.value*100%25==0","value":1},"value":0},"gridWidth":{"condition":{"test":"datum.value*100%25==0","value":1.3},"value":0.7}}}},"layer":[
{"data":{"name":"p21"},"mark":{"type":"point","filled":true,"opacity":1,"size":46},"encoding":{"color":{"field":"s","type":"nominal","legend":null,"scale":{"domain":["D2","D","2D","3D"],"range":["#4876ff","#d6cf00","#8b2323","#008b00"]}}}},
{"data":{"name":"l21"},"transform":[{"filter":"datum.s=='D2'"}],"mark":{"type":"area","fill":"#999999","opacity":0.4,"interpolate":"monotone"},"encoding":{"y":{"field":"l"},"y2":{"field":"h"}}},
{"data":{"name":"l21"},"transform":[{"filter":"datum.s=='D2'"}],"mark":{"type":"line","color":"#4876ff","strokeWidth":3,"interpolate":"monotone"},"encoding":{}},
{"data":{"name":"l21"},"transform":[{"filter":"datum.s=='D'"}],"mark":{"type":"area","fill":"#999999","opacity":0.4,"interpolate":"monotone"},"encoding":{"y":{"field":"l"},"y2":{"field":"h"}}},
{"data":{"name":"l21"},"transform":[{"filter":"datum.s=='D'"}],"mark":{"type":"line","color":"#d6cf00","strokeWidth":3,"interpolate":"monotone"},"encoding":{}},
{"data":{"name":"l21"},"transform":[{"filter":"datum.s=='2D'"}],"mark":{"type":"area","fill":"#999999","opacity":0.4,"interpolate":"monotone"},"encoding":{"y":{"field":"l"},"y2":{"field":"h"}}},
{"data":{"name":"l21"},"transform":[{"filter":"datum.s=='2D'"}],"mark":{"type":"line","color":"#8b2323","strokeWidth":3,"interpolate":"monotone"},"encoding":{}},
{"data":{"name":"l21"},"transform":[{"filter":"datum.s=='3D'"}],"mark":{"type":"area","fill":"#999999","opacity":0.4,"interpolate":"monotone"},"encoding":{"y":{"field":"l"},"y2":{"field":"h"}}},
{"data":{"name":"l21"},"transform":[{"filter":"datum.s=='3D'"}],"mark":{"type":"line","color":"#008b00","strokeWidth":3,"interpolate":"monotone"},"encoding":{}}]}
]},
{"width":329.5,"height":359,"layer":[{"encoding":{"x":{"field":"x","type":"quantitative","scale":{"domain":[3.25,41.75],"nice":false,"zero":false},"axis":{"title":"Year","titleFontSize":28,"titleColor":"#000","titlePadding":2,"values":[5,10,15,20,25,30,35,40],"grid":true,"labelExpr":"datum.value%10==0?datum.label:''","tickOpacity":{"condition":{"test":"datum.value%10==0","value":1},"value":0},"gridWidth":{"condition":{"test":"datum.value%10==0","value":1.3},"value":0.7}}},"y":{"field":"y","type":"quantitative","scale":{"domain":[-0.0915,0.935],"nice":false,"zero":false},"axis":{"title":null,"values":[0,0.125,0.25,0.375,0.5,0.625,0.75,0.875],"grid":true,"labels":false,"ticks":false,"gridWidth":{"condition":{"test":"datum.value*100%25==0","value":1.3},"value":0.7}}}},"layer":[
{"data":{"name":"p22"},"mark":{"type":"point","filled":true,"opacity":1,"size":46},"encoding":{"color":{"field":"s","type":"nominal","legend":null,"scale":{"domain":["D2","D","2D","3D"],"range":["#4876ff","#d6cf00","#8b2323","#008b00"]}}}},
{"data":{"name":"l22"},"transform":[{"filter":"datum.s=='D2'"}],"mark":{"type":"area","fill":"#999999","opacity":0.4,"interpolate":"monotone"},"encoding":{"y":{"field":"l"},"y2":{"field":"h"}}},
{"data":{"name":"l22"},"transform":[{"filter":"datum.s=='D2'"}],"mark":{"type":"line","color":"#4876ff","strokeWidth":3,"interpolate":"monotone"},"encoding":{}},
{"data":{"name":"l22"},"transform":[{"filter":"datum.s=='D'"}],"mark":{"type":"area","fill":"#999999","opacity":0.4,"interpolate":"monotone"},"encoding":{"y":{"field":"l"},"y2":{"field":"h"}}},
{"data":{"name":"l22"},"transform":[{"filter":"datum.s=='D'"}],"mark":{"type":"line","color":"#d6cf00","strokeWidth":3,"interpolate":"monotone"},"encoding":{}},
{"data":{"name":"l22"},"transform":[{"filter":"datum.s=='2D'"}],"mark":{"type":"area","fill":"#999999","opacity":0.4,"interpolate":"monotone"},"encoding":{"y":{"field":"l"},"y2":{"field":"h"}}},
{"data":{"name":"l22"},"transform":[{"filter":"datum.s=='2D'"}],"mark":{"type":"line","color":"#8b2323","strokeWidth":3,"interpolate":"monotone"},"encoding":{}},
{"data":{"name":"l22"},"transform":[{"filter":"datum.s=='3D'"}],"mark":{"type":"area","fill":"#999999","opacity":0.4,"interpolate":"monotone"},"encoding":{"y":{"field":"l"},"y2":{"field":"h"}}},
{"data":{"name":"l22"},"transform":[{"filter":"datum.s=='3D'"}],"mark":{"type":"line","color":"#008b00","strokeWidth":3,"interpolate":"monotone"},"encoding":{}}]}
]},
{"width":329.5,"height":359,"layer":[{"encoding":{"x":{"field":"x","type":"quantitative","scale":{"domain":[3.25,41.75],"nice":false,"zero":false},"axis":{"title":null,"values":[5,10,15,20,25,30,35,40],"grid":true,"labelExpr":"datum.value%10==0?datum.label:''","tickOpacity":{"condition":{"test":"datum.value%10==0","value":1},"value":0},"gridWidth":{"condition":{"test":"datum.value%10==0","value":1.3},"value":0.7}}},"y":{"field":"y","type":"quantitative","scale":{"domain":[-0.0915,0.935],"nice":false,"zero":false},"axis":{"title":null,"values":[0,0.125,0.25,0.375,0.5,0.625,0.75,0.875],"grid":true,"labels":false,"ticks":false,"gridWidth":{"condition":{"test":"datum.value*100%25==0","value":1.3},"value":0.7}}}},"layer":[
{"data":{"name":"p23"},"mark":{"type":"point","filled":true,"opacity":1,"size":46},"encoding":{"color":{"field":"s","type":"nominal","legend":null,"scale":{"domain":["D2","D","2D","3D"],"range":["#4876ff","#d6cf00","#8b2323","#008b00"]}}}},
{"data":{"name":"l23"},"transform":[{"filter":"datum.s=='D2'"}],"mark":{"type":"area","fill":"#999999","opacity":0.4,"interpolate":"monotone"},"encoding":{"y":{"field":"l"},"y2":{"field":"h"}}},
{"data":{"name":"l23"},"transform":[{"filter":"datum.s=='D2'"}],"mark":{"type":"line","color":"#4876ff","strokeWidth":3,"interpolate":"monotone"},"encoding":{}},
{"data":{"name":"l23"},"transform":[{"filter":"datum.s=='D'"}],"mark":{"type":"area","fill":"#999999","opacity":0.4,"interpolate":"monotone"},"encoding":{"y":{"field":"l"},"y2":{"field":"h"}}},
{"data":{"name":"l23"},"transform":[{"filter":"datum.s=='D'"}],"mark":{"type":"line","color":"#d6cf00","strokeWidth":3,"interpolate":"monotone"},"encoding":{}},
{"data":{"name":"l23"},"transform":[{"filter":"datum.s=='2D'"}],"mark":{"type":"area","fill":"#999999","opacity":0.4,"interpolate":"monotone"},"encoding":{"y":{"field":"l"},"y2":{"field":"h"}}},
{"data":{"name":"l23"},"transform":[{"filter":"datum.s=='2D'"}],"mark":{"type":"line","color":"#8b2323","strokeWidth":3,"interpolate":"monotone"},"encoding":{}},
{"data":{"name":"l23"},"transform":[{"filter":"datum.s=='3D'"}],"mark":{"type":"area","fill":"#999999","opacity":0.4,"interpolate":"monotone"},"encoding":{"y":{"field":"l"},"y2":{"field":"h"}}},
{"data":{"name":"l23"},"transform":[{"filter":"datum.s=='3D'"}],"mark":{"type":"line","color":"#008b00","strokeWidth":3,"interpolate":"monotone"},"encoding":{}}]},
{"data":{"values":[{"t":"Scattered"}]},"mark":{"type":"rect","fill":"#d9d9d9","stroke":"#333333","strokeWidth":1.5},"encoding":{"x":{"datum":41.75,"axis":{"title":null}},"x2":{"datum":45.9},"y":{"datum":-0.0915,"axis":{"title":null}},"y2":{"datum":0.935}}},
{"data":{"values":[{"t":"Scattered"}]},"mark":{"type":"text","fontSize":21.7,"color":"#1a1a1a","angle":90},"encoding":{"text":{"field":"t"},"x":{"datum":43.82,"axis":{"title":null}},"y":{"datum":0.4218,"axis":{"title":null}}}}
]}
]}
]},
{"spacing":0,"vconcat":[
{"width":1,"height":287,"view":{"stroke":null},"data":{"values":[{"t":""}]},"mark":{"type":"text"},"encoding":{"text":{"field":"t"}}},
{"width":31,"height":123,"view":{"stroke":null,"fill":"#d9d9d9"},"title":{"text":"Demand","anchor":"start","fontSize":26.5,"fontWeight":"normal","color":"#000","offset":4},"data":{"values":[{"s":"D2"},{"s":"D"},{"s":"2D"},{"s":"3D"}]},
"encoding":{"y":{"field":"s","type":"nominal","scale":{"domain":["D2","D","2D","3D"]},"axis":{"title":null,"orient":"right","ticks":false,"grid":false,"labelFontSize":20.5,"labelColor":"#000","labelPadding":5}},"color":{"field":"s","type":"nominal","legend":null,"scale":{"domain":["D2","D","2D","3D"],"range":["#4876ff","#d6cf00","#8b2323","#008b00"]}}},
"layer":[
{"mark":{"type":"rule","strokeWidth":3},"encoding":{"x":{"datum":0.1,"scale":{"domain":[0,1]},"axis":null},"x2":{"datum":0.9}}},
{"mark":{"type":"point","filled":true,"opacity":1,"size":38},"encoding":{"x":{"datum":0.5,"scale":{"domain":[0,1]},"axis":null}}}
]}
]}
],
"config":{"font":"Liberation Sans","view":{"stroke":"#333333","strokeWidth":1.5},"axis":{"domain":false,"gridColor":"#ebebeb","labelFontSize":20.5,"labelColor":"#4d4d4d","tickColor":"#333333","tickSize":5,"tickWidth":1.3,"labelPadding":3,"labelOverlap":false,"labelBound":false,"labelFlush":false,"titleFontWeight":"normal"},"title":{"fontWeight":"normal"}}
}
